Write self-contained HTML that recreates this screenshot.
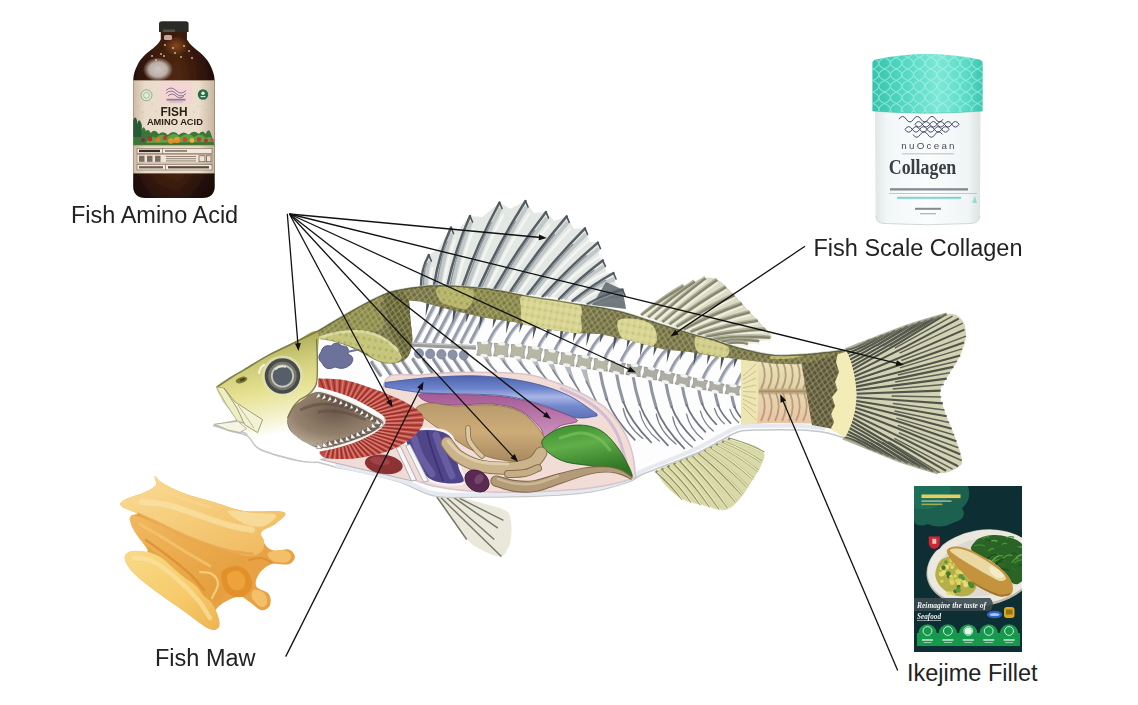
<!DOCTYPE html>
<html><head><meta charset="utf-8"><title>Fish utilisation diagram</title>
<style>
html,body{margin:0;padding:0;background:#fff;}
body{width:1138px;height:705px;overflow:hidden;position:relative;font-family:"Liberation Sans",sans-serif;}
svg{position:absolute;left:0;top:0;}
.lbl{position:absolute;font-size:23.5px;line-height:24px;color:#222;white-space:nowrap;letter-spacing:0;}
</style></head><body>
<svg width="1138" height="705" viewBox="0 0 1138 705">
<defs>

<linearGradient id="gHead" x1="0" y1="0" x2="0.15" y2="1">
 <stop offset="0" stop-color="#807f3a"/><stop offset="0.1" stop-color="#a5a452"/><stop offset="0.3" stop-color="#cbc976"/><stop offset="0.52" stop-color="#e6e292"/><stop offset="0.7" stop-color="#f2f0c6"/><stop offset="0.86" stop-color="#ffffff"/>
</linearGradient>
<radialGradient id="gCav" cx="0.5" cy="0.35" r="0.7">
 <stop offset="0" stop-color="#6e5a4c"/><stop offset="0.6" stop-color="#93806c"/><stop offset="1" stop-color="#bdb09a"/>
</radialGradient>
<linearGradient id="gBlue" x1="0" y1="0" x2="0" y2="1">
 <stop offset="0" stop-color="#4f62ae"/><stop offset="0.3" stop-color="#6c84cc"/><stop offset="0.5" stop-color="#a8b6e6"/><stop offset="0.72" stop-color="#7488cc"/><stop offset="1" stop-color="#5f72ba"/>
</linearGradient>
<linearGradient id="gPink" x1="0" y1="0" x2="0" y2="1">
 <stop offset="0" stop-color="#a45a94"/><stop offset="1" stop-color="#cc94c0"/>
</linearGradient>
<linearGradient id="gTan" x1="0" y1="0" x2="0" y2="1">
 <stop offset="0" stop-color="#b89a6c"/><stop offset="0.5" stop-color="#cdac78"/><stop offset="1" stop-color="#a98a60"/>
</linearGradient>
<linearGradient id="gGreen" x1="0" y1="0" x2="0.3" y2="1">
 <stop offset="0" stop-color="#3a8a2c"/><stop offset="0.45" stop-color="#60ae4a"/><stop offset="1" stop-color="#2f7424"/>
</linearGradient>
<linearGradient id="gPurple" x1="0" y1="0" x2="1" y2="0">
 <stop offset="0" stop-color="#4a3f86"/><stop offset="0.5" stop-color="#7a6cc0"/><stop offset="1" stop-color="#4a3c80"/>
</linearGradient>
<linearGradient id="gFillet" x1="0" y1="0" x2="0" y2="1">
 <stop offset="0" stop-color="#ece4be"/><stop offset="0.45" stop-color="#e2d2a8"/><stop offset="0.5" stop-color="#a58a66"/><stop offset="0.56" stop-color="#e6d6b0"/><stop offset="1" stop-color="#e8c4a6"/>
</linearGradient>
<pattern id="pScale" width="6" height="7.4" patternUnits="userSpaceOnUse" patternTransform="rotate(10)">
 <path d="M0,3.7 L3,0 L6,3.7 L3,7.4 Z" fill="none" stroke="#c9c78c" stroke-width="1" opacity="0.5"/>
 <path d="M3,1.6 L4.6,3.7 L3,5.8 L1.4,3.7 Z" fill="#3c3b1c" opacity="0.16"/>
</pattern>
<clipPath id="cStripe"><path d="M315.7,332.0C318.4,330.4 326.4,325.6 331.6,322.5C336.8,319.4 341.8,316.5 347.0,313.5C352.2,310.5 357.5,307.4 363.0,304.5C368.5,301.6 374.7,298.3 380.0,296.0C385.3,293.7 387.2,292.3 395.0,290.6C402.8,288.9 417.3,286.7 426.5,285.8C435.7,284.9 440.6,285.1 450.0,285.5C459.4,285.9 474.7,287.2 483.0,288.0C491.3,288.8 492.1,289.1 500.0,290.5C507.9,291.9 521.5,294.9 530.7,296.5C539.9,298.1 547.1,298.8 555.0,300.0C562.9,301.2 570.5,302.8 578.0,304.0C585.5,305.2 593.5,306.1 600.0,307.2C606.5,308.3 612.0,309.4 617.0,310.5C622.0,311.6 624.5,312.3 630.0,314.0C635.5,315.7 644.3,318.7 650.0,320.5C655.7,322.3 655.7,322.4 664.0,325.0C672.3,327.6 691.5,333.6 700.0,336.0C708.5,338.4 710.8,338.2 715.0,339.5C719.2,340.8 719.2,341.7 725.0,343.5C730.8,345.3 741.7,348.6 750.0,350.5C758.3,352.4 765.5,354.4 775.0,355.0C784.5,355.6 795.3,354.8 807.0,354.0C818.7,353.2 838.7,350.7 845.0,350.0L845.0,352.0 L812.0,362.0 L797.0,364.3 L775.0,363.8 L745.0,360.0 L715.0,356.5 L690.0,352.0 L664.0,349.5 L630.0,340.5 L600.0,334.0 L578.0,333.3 L546.5,329.3 L515.0,322.2 L483.3,317.5 L451.6,310.3 L420.0,301.6 L409.0,300.5 L409.0,300.5C409.3,304.1 410.1,315.2 410.7,322.0C411.2,328.8 412.8,335.2 412.3,341.0C411.8,346.8 410.5,353.3 407.6,357.0C404.7,360.7 399.8,362.5 395.0,363.3C390.2,364.1 384.3,363.3 379.0,361.7C373.7,360.1 368.6,356.1 363.3,353.5C358.1,350.9 352.8,348.1 347.5,346.0C342.2,343.9 336.8,342.2 331.6,341.0C326.4,339.8 319.0,338.9 316.5,338.5Z"/></clipPath>
<filter id="soft" x="-5%" y="-5%" width="110%" height="110%"><feGaussianBlur stdDeviation="0.75"/></filter>

<linearGradient id="gBottle" x1="0" y1="0" x2="1" y2="0">
 <stop offset="0" stop-color="#260f0a"/><stop offset="0.3" stop-color="#48220f"/><stop offset="0.55" stop-color="#502812"/><stop offset="0.8" stop-color="#38180c"/><stop offset="1" stop-color="#200c07"/>
</linearGradient>
<linearGradient id="gBottleV" x1="0" y1="0" x2="0" y2="1">
 <stop offset="0" stop-color="#000" stop-opacity="0.25"/><stop offset="0.25" stop-color="#000" stop-opacity="0"/><stop offset="0.85" stop-color="#000" stop-opacity="0.1"/><stop offset="1" stop-color="#000" stop-opacity="0.45"/>
</linearGradient>
<linearGradient id="gLabel" x1="0" y1="0" x2="1" y2="0">
 <stop offset="0" stop-color="#cdbba6"/><stop offset="0.15" stop-color="#eadccb"/><stop offset="0.8" stop-color="#ecdfce"/><stop offset="1" stop-color="#c9b6a0"/>
</linearGradient>
<linearGradient id="gJar" x1="0" y1="0" x2="1" y2="0">
 <stop offset="0" stop-color="#dfe7e7"/><stop offset="0.12" stop-color="#f3f7f7"/><stop offset="0.5" stop-color="#fbfdfd"/><stop offset="0.88" stop-color="#f1f5f5"/><stop offset="1" stop-color="#dbe3e3"/>
</linearGradient>
<linearGradient id="gTeal" x1="0" y1="0" x2="1" y2="0">
 <stop offset="0" stop-color="#35c2ac"/><stop offset="0.25" stop-color="#4fd6c0"/><stop offset="0.6" stop-color="#7ce8d6"/><stop offset="0.85" stop-color="#5adcc6"/><stop offset="1" stop-color="#3cc6b0"/>
</linearGradient>
<radialGradient id="gAmber"><stop offset="0" stop-color="#96501e" stop-opacity="0.8"/><stop offset="1" stop-color="#96501e" stop-opacity="0"/></radialGradient>
<radialGradient id="gGlare"><stop offset="0" stop-color="#d8d0cc" stop-opacity="0.95"/><stop offset="0.6" stop-color="#cfc6c2" stop-opacity="0.85"/><stop offset="1" stop-color="#cfc6c2" stop-opacity="0"/></radialGradient>
<clipPath id="cTeal"><path d="M872.4,63 Q872.4,60.5 876,59.5 Q927,48.5 979,59.5 Q982.7,60.5 982.7,63 L982.7,111 Q927,115.5 872.4,111 Z"/></clipPath>
<clipPath id="cPack"><rect x="914" y="486" width="108" height="166"/></clipPath>
<radialGradient id="gPlate" cx="0.5" cy="0.5" r="0.5">
 <stop offset="0.7" stop-color="#e9e5da"/><stop offset="0.9" stop-color="#f4f1ea"/><stop offset="1" stop-color="#c9c4b6"/>
</radialGradient>
<linearGradient id="gMaw1" x1="0" y1="0" x2="1" y2="1">
 <stop offset="0" stop-color="#f9dc98"/><stop offset="0.5" stop-color="#f5cb78"/><stop offset="1" stop-color="#efb75c"/>
</linearGradient>
<linearGradient id="gMaw2" x1="0" y1="0" x2="1" y2="1">
 <stop offset="0" stop-color="#f1b860"/><stop offset="1" stop-color="#e29a38"/>
</linearGradient>
<linearGradient id="gMaw3" x1="0" y1="0" x2="1" y2="1">
 <stop offset="0" stop-color="#f9da88"/><stop offset="0.6" stop-color="#f6ca6a"/><stop offset="1" stop-color="#eeb352"/>
</linearGradient>

</defs>
<g id="fish" filter="url(#soft)"><g id="dorsal"><polygon points="421.0,287.5 428.8,255.0 437.8,249.6 451.0,227.5 458.6,229.3 470.0,216.0 482.3,216.9 499.5,202.5 510.2,208.8 525.5,201.0 533.7,212.9 546.0,212.0 554.3,221.0 566.7,216.4 573.9,228.8 585.0,228.4 589.8,241.8 597.9,242.6 599.1,257.6 602.8,260.4 606.6,273.1 613.5,273.0 616.5,287.4 622.5,289.5 626.0,308.0 600.0,306.5 555.0,297.5 500.0,290.5 450.0,285.0" fill="#e3e8e4"/><path d="M426.0,287.5 Q425.9,269.2 429.8,261.0" fill="none" stroke="#b2bbbb" stroke-width="4" opacity="0.7"/><path d="M430.5,287.5 Q430.4,271.2 432.8,267.0" fill="none" stroke="#f4f6f4" stroke-width="2.5" opacity="0.9"/><path d="M439.0,285.5 Q443.8,254.5 452.0,233.5" fill="none" stroke="#b2bbbb" stroke-width="4" opacity="0.7"/><path d="M443.5,285.5 Q448.3,256.5 455.0,239.5" fill="none" stroke="#f4f6f4" stroke-width="2.5" opacity="0.9"/><path d="M452.5,285.0 Q460.4,248.5 471.0,222.0" fill="none" stroke="#b2bbbb" stroke-width="4" opacity="0.7"/><path d="M457.0,285.0 Q464.9,250.5 474.0,228.0" fill="none" stroke="#f4f6f4" stroke-width="2.5" opacity="0.9"/><path d="M467.5,286.0 Q482.9,242.2 500.5,208.5" fill="none" stroke="#b2bbbb" stroke-width="4" opacity="0.7"/><path d="M472.0,286.0 Q487.4,244.2 503.5,214.5" fill="none" stroke="#f4f6f4" stroke-width="2.5" opacity="0.9"/><path d="M484.0,287.0 Q504.4,242.0 526.5,207.0" fill="none" stroke="#b2bbbb" stroke-width="4" opacity="0.7"/><path d="M488.5,287.0 Q508.9,244.0 529.5,213.0" fill="none" stroke="#f4f6f4" stroke-width="2.5" opacity="0.9"/><path d="M499.0,289.5 Q522.5,248.8 547.0,218.0" fill="none" stroke="#b2bbbb" stroke-width="4" opacity="0.7"/><path d="M503.5,289.5 Q527.0,250.8 550.0,224.0" fill="none" stroke="#f4f6f4" stroke-width="2.5" opacity="0.9"/><path d="M515.0,292.0 Q541.1,252.2 567.7,222.4" fill="none" stroke="#b2bbbb" stroke-width="4" opacity="0.7"/><path d="M519.5,292.0 Q545.6,254.2 570.7,228.4" fill="none" stroke="#f4f6f4" stroke-width="2.5" opacity="0.9"/><path d="M532.5,294.5 Q559.4,259.4 586.0,234.4" fill="none" stroke="#b2bbbb" stroke-width="4" opacity="0.7"/><path d="M537.0,294.5 Q563.9,261.4 589.0,240.4" fill="none" stroke="#f4f6f4" stroke-width="2.5" opacity="0.9"/><path d="M547.5,296.5 Q573.6,267.6 598.9,248.6" fill="none" stroke="#b2bbbb" stroke-width="4" opacity="0.7"/><path d="M552.0,296.5 Q578.1,269.6 601.9,254.6" fill="none" stroke="#f4f6f4" stroke-width="2.5" opacity="0.9"/><path d="M564.0,299.0 Q584.6,277.7 603.8,266.4" fill="none" stroke="#b2bbbb" stroke-width="4" opacity="0.7"/><path d="M568.5,299.0 Q589.1,279.7 606.8,272.4" fill="none" stroke="#f4f6f4" stroke-width="2.5" opacity="0.9"/><path d="M577.5,301.0 Q597.0,285.0 614.5,279.0" fill="none" stroke="#b2bbbb" stroke-width="4" opacity="0.7"/><path d="M582.0,301.0 Q601.5,287.0 617.5,285.0" fill="none" stroke="#f4f6f4" stroke-width="2.5" opacity="0.9"/><path d="M592.5,304.0 Q609.3,294.8 623.5,295.5" fill="none" stroke="#b2bbbb" stroke-width="4" opacity="0.7"/><path d="M597.0,304.0 Q613.8,296.8 626.5,301.5" fill="none" stroke="#f4f6f4" stroke-width="2.5" opacity="0.9"/><polygon points="606,282 622.5,289.5 626,309 592,305" fill="#5c666b" opacity="0.85"/><path d="M421.0,287.5 Q420.9,269.2 428.8,255.0" fill="none" stroke="#565e65" stroke-width="2.5" stroke-linecap="round"/><path d="M423.6,287.5 Q423.3,270.2 426.7,263.4" fill="none" stroke="#8c949c" stroke-width="1.4" stroke-linecap="round"/><path d="M428.8,255.0 l2.5,6" stroke="#4b5358" stroke-width="1.6" stroke-linecap="round"/><path d="M434.0,285.5 Q438.8,254.5 451.0,227.5" fill="none" stroke="#565e65" stroke-width="2.5" stroke-linecap="round"/><path d="M436.6,285.5 Q441.2,255.5 447.0,241.7" fill="none" stroke="#8c949c" stroke-width="1.4" stroke-linecap="round"/><path d="M451.0,227.5 l2.5,6" stroke="#4b5358" stroke-width="1.6" stroke-linecap="round"/><path d="M447.5,285.0 Q455.4,248.5 470.0,216.0" fill="none" stroke="#565e65" stroke-width="2.5" stroke-linecap="round"/><path d="M450.1,285.0 Q457.8,249.5 464.9,232.6" fill="none" stroke="#8c949c" stroke-width="1.4" stroke-linecap="round"/><path d="M470.0,216.0 l2.5,6" stroke="#4b5358" stroke-width="1.6" stroke-linecap="round"/><path d="M462.5,286.0 Q477.9,242.2 499.5,202.5" fill="none" stroke="#565e65" stroke-width="2.5" stroke-linecap="round"/><path d="M465.1,286.0 Q480.3,243.2 491.3,222.4" fill="none" stroke="#8c949c" stroke-width="1.4" stroke-linecap="round"/><path d="M499.5,202.5 l2.5,6" stroke="#4b5358" stroke-width="1.6" stroke-linecap="round"/><path d="M479.0,287.0 Q499.4,242.0 525.5,201.0" fill="none" stroke="#565e65" stroke-width="2.5" stroke-linecap="round"/><path d="M481.6,287.0 Q501.8,243.0 515.3,221.4" fill="none" stroke="#8c949c" stroke-width="1.4" stroke-linecap="round"/><path d="M525.5,201.0 l2.5,6" stroke="#4b5358" stroke-width="1.6" stroke-linecap="round"/><path d="M494.0,289.5 Q517.5,248.8 546.0,212.0" fill="none" stroke="#565e65" stroke-width="2.5" stroke-linecap="round"/><path d="M496.6,289.5 Q519.9,249.8 534.7,230.5" fill="none" stroke="#8c949c" stroke-width="1.4" stroke-linecap="round"/><path d="M546.0,212.0 l2.5,6" stroke="#4b5358" stroke-width="1.6" stroke-linecap="round"/><path d="M510.0,292.0 Q536.1,252.2 566.7,216.4" fill="none" stroke="#565e65" stroke-width="2.5" stroke-linecap="round"/><path d="M512.6,292.0 Q538.5,253.2 554.5,234.5" fill="none" stroke="#8c949c" stroke-width="1.4" stroke-linecap="round"/><path d="M566.7,216.4 l2.5,6" stroke="#4b5358" stroke-width="1.6" stroke-linecap="round"/><path d="M527.5,294.5 Q554.4,259.4 585.0,228.4" fill="none" stroke="#565e65" stroke-width="2.5" stroke-linecap="round"/><path d="M530.1,294.5 Q556.8,260.4 572.7,244.4" fill="none" stroke="#8c949c" stroke-width="1.4" stroke-linecap="round"/><path d="M585.0,228.4 l2.5,6" stroke="#4b5358" stroke-width="1.6" stroke-linecap="round"/><path d="M542.5,296.5 Q568.6,267.6 597.9,242.6" fill="none" stroke="#565e65" stroke-width="2.5" stroke-linecap="round"/><path d="M545.1,296.5 Q571.0,268.6 586.2,255.8" fill="none" stroke="#8c949c" stroke-width="1.4" stroke-linecap="round"/><path d="M597.9,242.6 l2.5,6" stroke="#4b5358" stroke-width="1.6" stroke-linecap="round"/><path d="M559.0,299.0 Q579.6,277.7 602.8,260.4" fill="none" stroke="#565e65" stroke-width="2.5" stroke-linecap="round"/><path d="M561.6,299.0 Q582.0,278.7 593.9,270.2" fill="none" stroke="#8c949c" stroke-width="1.4" stroke-linecap="round"/><path d="M602.8,260.4 l2.5,6" stroke="#4b5358" stroke-width="1.6" stroke-linecap="round"/><path d="M572.5,301.0 Q592.0,285.0 613.5,273.0" fill="none" stroke="#565e65" stroke-width="2.5" stroke-linecap="round"/><path d="M575.1,301.0 Q594.4,286.0 605.3,280.4" fill="none" stroke="#8c949c" stroke-width="1.4" stroke-linecap="round"/><path d="M613.5,273.0 l2.5,6" stroke="#4b5358" stroke-width="1.6" stroke-linecap="round"/><path d="M587.5,304.0 Q604.3,294.8 622.5,289.5" fill="none" stroke="#565e65" stroke-width="2.5" stroke-linecap="round"/><path d="M590.1,304.0 Q606.7,295.8 615.8,293.9" fill="none" stroke="#8c949c" stroke-width="1.4" stroke-linecap="round"/><path d="M622.5,289.5 l2.5,6" stroke="#4b5358" stroke-width="1.6" stroke-linecap="round"/></g><g id="dorsal2"><path d="M641.0,315.0C643.8,312.7 651.5,305.5 658.0,301.0C664.5,296.5 672.3,291.8 680.0,288.0C687.7,284.2 697.7,279.3 704.0,278.0C710.3,276.7 713.3,277.6 718.0,280.0C722.7,282.4 727.0,287.6 732.0,292.6C737.0,297.6 743.0,304.6 748.0,310.0C753.0,315.4 758.0,320.5 762.0,325.0C766.0,329.5 772.3,334.3 772.0,337.0C771.7,339.7 764.8,339.8 760.0,341.0C755.2,342.2 746.2,343.5 743.5,344.0L722,344 L700,337 L675,327 Z" fill="#dcdcc6"/><path d="M641.0,315.0 Q663.5,297.5 684.0,286.0" stroke="#7c7c66" stroke-width="2.6" fill="none" opacity="0.9"/><path d="M642.0,313.0 Q663.5,295.5 683.0,284.4" stroke="#a9a990" stroke-width="1.6" fill="none" opacity="0.8"/><path d="M642.5,317.4 Q665.0,300.5 684.5,288.6" stroke="#f1f1e2" stroke-width="1.8" fill="none" opacity="0.9"/><path d="M648.1,317.3 Q672.5,296.5 694.8,281.7" stroke="#7c7c66" stroke-width="2.6" fill="none" opacity="0.9"/><path d="M649.1,315.3 Q672.5,294.5 693.8,280.1" stroke="#a9a990" stroke-width="1.6" fill="none" opacity="0.8"/><path d="M649.6,319.7 Q674.0,299.5 695.3,284.3" stroke="#f1f1e2" stroke-width="1.8" fill="none" opacity="0.9"/><path d="M655.2,319.6 Q681.5,295.9 705.7,278.2" stroke="#7c7c66" stroke-width="2.6" fill="none" opacity="0.9"/><path d="M656.2,317.6 Q681.5,293.9 704.7,276.6" stroke="#a9a990" stroke-width="1.6" fill="none" opacity="0.8"/><path d="M656.7,322.0 Q683.0,298.9 706.2,280.8" stroke="#f1f1e2" stroke-width="1.8" fill="none" opacity="0.9"/><path d="M662.4,321.9 Q690.8,297.9 717.2,279.9" stroke="#7c7c66" stroke-width="2.6" fill="none" opacity="0.9"/><path d="M663.4,319.9 Q690.8,295.9 716.2,278.3" stroke="#a9a990" stroke-width="1.6" fill="none" opacity="0.8"/><path d="M663.9,324.3 Q692.3,300.9 717.7,282.5" stroke="#f1f1e2" stroke-width="1.8" fill="none" opacity="0.9"/><path d="M669.5,324.2 Q698.7,302.7 726.0,287.2" stroke="#7c7c66" stroke-width="2.6" fill="none" opacity="0.9"/><path d="M670.5,322.2 Q698.7,300.7 725.0,285.6" stroke="#a9a990" stroke-width="1.6" fill="none" opacity="0.8"/><path d="M671.0,326.6 Q700.2,305.7 726.5,289.8" stroke="#f1f1e2" stroke-width="1.8" fill="none" opacity="0.9"/><path d="M676.6,326.6 Q706.5,307.9 734.4,295.2" stroke="#7c7c66" stroke-width="2.6" fill="none" opacity="0.9"/><path d="M677.6,324.6 Q706.5,305.9 733.4,293.6" stroke="#a9a990" stroke-width="1.6" fill="none" opacity="0.8"/><path d="M678.1,329.0 Q708.0,310.9 734.9,297.8" stroke="#f1f1e2" stroke-width="1.8" fill="none" opacity="0.9"/><path d="M683.6,329.3 Q713.9,313.5 742.2,303.7" stroke="#7c7c66" stroke-width="2.6" fill="none" opacity="0.9"/><path d="M684.6,327.3 Q713.9,311.5 741.2,302.1" stroke="#a9a990" stroke-width="1.6" fill="none" opacity="0.8"/><path d="M685.1,331.7 Q715.4,316.5 742.7,306.3" stroke="#f1f1e2" stroke-width="1.8" fill="none" opacity="0.9"/><path d="M690.6,331.9 Q721.4,319.1 750.1,312.3" stroke="#7c7c66" stroke-width="2.6" fill="none" opacity="0.9"/><path d="M691.6,329.9 Q721.4,317.1 749.1,310.7" stroke="#a9a990" stroke-width="1.6" fill="none" opacity="0.8"/><path d="M692.1,334.3 Q722.9,322.1 750.6,314.9" stroke="#f1f1e2" stroke-width="1.8" fill="none" opacity="0.9"/><path d="M697.6,334.6 Q728.8,324.7 758.0,320.8" stroke="#7c7c66" stroke-width="2.6" fill="none" opacity="0.9"/><path d="M698.6,332.6 Q728.8,322.7 757.0,319.2" stroke="#a9a990" stroke-width="1.6" fill="none" opacity="0.8"/><path d="M699.1,337.0 Q730.3,327.7 758.5,323.4" stroke="#f1f1e2" stroke-width="1.8" fill="none" opacity="0.9"/><path d="M704.7,337.0 Q736.2,330.2 765.7,329.5" stroke="#7c7c66" stroke-width="2.6" fill="none" opacity="0.9"/><path d="M705.7,335.0 Q736.2,328.2 764.7,327.9" stroke="#a9a990" stroke-width="1.6" fill="none" opacity="0.8"/><path d="M706.2,339.4 Q737.7,333.2 766.2,332.1" stroke="#f1f1e2" stroke-width="1.8" fill="none" opacity="0.9"/><path d="M711.8,339.3 Q742.0,335.5 770.3,337.6" stroke="#7c7c66" stroke-width="2.6" fill="none" opacity="0.9"/><path d="M712.8,337.3 Q742.0,333.5 769.3,336.0" stroke="#a9a990" stroke-width="1.6" fill="none" opacity="0.8"/><path d="M713.3,341.7 Q743.5,338.5 770.8,340.2" stroke="#f1f1e2" stroke-width="1.8" fill="none" opacity="0.9"/><path d="M718.9,341.7 Q740.1,338.4 759.3,341.2" stroke="#7c7c66" stroke-width="2.6" fill="none" opacity="0.9"/><path d="M719.9,339.7 Q740.1,336.4 758.3,339.6" stroke="#a9a990" stroke-width="1.6" fill="none" opacity="0.8"/><path d="M720.4,344.1 Q741.6,341.4 759.8,343.8" stroke="#f1f1e2" stroke-width="1.8" fill="none" opacity="0.9"/><path d="M726.0,344.0 Q738.0,341.0 748.0,344.0" stroke="#7c7c66" stroke-width="2.6" fill="none" opacity="0.9"/><path d="M727.0,342.0 Q738.0,339.0 747.0,342.4" stroke="#a9a990" stroke-width="1.6" fill="none" opacity="0.8"/><path d="M727.5,346.4 Q739.5,344.0 748.5,346.6" stroke="#f1f1e2" stroke-width="1.8" fill="none" opacity="0.9"/></g><g id="tail"><path d="M845.0,350.0C849.2,348.3 859.2,344.2 870.0,340.0C880.8,335.8 897.2,329.3 910.0,325.0C922.8,320.7 938.3,314.8 947.0,314.0C955.7,313.2 958.8,316.3 962.0,320.0C965.2,323.7 966.3,330.0 966.0,336.0C965.7,342.0 963.0,349.3 960.0,356.0C957.0,362.7 951.3,370.0 948.0,376.0C944.7,382.0 940.5,386.0 940.0,392.0C939.5,398.0 942.5,404.5 945.0,412.0C947.5,419.5 952.2,429.0 955.0,437.0C957.8,445.0 961.7,454.8 962.0,460.0C962.3,465.2 961.0,465.8 957.0,468.0C953.0,470.2 947.5,474.2 938.0,473.0C928.5,471.8 911.3,465.0 900.0,461.0C888.7,457.0 879.5,452.8 870.0,449.0C860.5,445.2 847.5,439.8 843.0,438.0L850,424 L854,410 L856,395 L854.5,378 L851,362 Z" fill="#d3d3b3"/><path d="M846.0,350.0 Q858.0,348.0 870.0,340.0" stroke="#50544a" stroke-width="2.1" fill="none"/><path d="M859.1,345.7 L876.3,337.6" stroke="#5c6054" stroke-width="1.5" fill="none"/><path d="M847.3,353.2 Q865.0,347.0 882.6,335.3" stroke="#50544a" stroke-width="2.1" fill="none"/><path d="M865.2,345.6 L888.8,332.9" stroke="#5c6054" stroke-width="1.5" fill="none"/><path d="M848.7,356.4 Q871.9,346.0 895.1,330.6" stroke="#50544a" stroke-width="2.1" fill="none"/><path d="M871.2,345.5 L901.4,328.2" stroke="#5c6054" stroke-width="1.5" fill="none"/><path d="M850.0,359.6 Q878.9,345.1 907.7,325.9" stroke="#50544a" stroke-width="2.1" fill="none"/><path d="M877.3,345.5 L914.1,323.8" stroke="#5c6054" stroke-width="1.5" fill="none"/><path d="M851.2,362.9 Q885.8,344.5 920.5,321.9" stroke="#50544a" stroke-width="2.1" fill="none"/><path d="M883.2,345.9 L926.9,320.0" stroke="#5c6054" stroke-width="1.5" fill="none"/><path d="M851.9,366.3 Q892.7,344.0 933.4,318.1" stroke="#50544a" stroke-width="2.1" fill="none"/><path d="M889.1,346.2 L939.8,316.1" stroke="#5c6054" stroke-width="1.5" fill="none"/><path d="M852.7,369.7 Q899.5,343.6 946.2,314.2" stroke="#50544a" stroke-width="2.1" fill="none"/><path d="M894.8,348.2 L952.5,316.2" stroke="#5c6054" stroke-width="1.5" fill="none"/><path d="M853.4,373.1 Q906.1,347.3 958.7,318.7" stroke="#50544a" stroke-width="2.1" fill="none"/><path d="M899.6,353.1 L962.8,323.1" stroke="#5c6054" stroke-width="1.5" fill="none"/><path d="M854.2,376.5 Q909.3,354.2 964.4,329.6" stroke="#50544a" stroke-width="2.1" fill="none"/><path d="M901.3,360.5 L966.0,336.1" stroke="#5c6054" stroke-width="1.5" fill="none"/><path d="M854.7,379.9 Q909.4,362.1 964.0,342.5" stroke="#50544a" stroke-width="2.1" fill="none"/><path d="M899.9,367.9 L962.1,348.9" stroke="#5c6054" stroke-width="1.5" fill="none"/><path d="M855.0,383.4 Q907.6,370.1 960.2,355.4" stroke="#50544a" stroke-width="2.1" fill="none"/><path d="M897.9,375.1 L956.9,361.2" stroke="#5c6054" stroke-width="1.5" fill="none"/><path d="M855.3,386.9 Q904.4,377.4 953.4,366.9" stroke="#50544a" stroke-width="2.1" fill="none"/><path d="M895.1,381.9 L950.0,372.7" stroke="#5c6054" stroke-width="1.5" fill="none"/><path d="M855.6,390.3 Q901.2,384.7 946.7,378.6" stroke="#50544a" stroke-width="2.1" fill="none"/><path d="M892.7,388.9 L943.7,384.6" stroke="#5c6054" stroke-width="1.5" fill="none"/><path d="M855.9,393.8 Q898.3,392.2 940.7,390.6" stroke="#50544a" stroke-width="2.1" fill="none"/><path d="M891.7,396.1 L941.2,396.9" stroke="#5c6054" stroke-width="1.5" fill="none"/><path d="M855.7,397.2 Q899.3,400.1 942.9,403.4" stroke="#50544a" stroke-width="2.1" fill="none"/><path d="M892.9,403.6 L944.5,410.0" stroke="#5c6054" stroke-width="1.5" fill="none"/><path d="M855.2,400.7 Q901.0,408.0 946.7,416.3" stroke="#50544a" stroke-width="2.1" fill="none"/><path d="M894.6,410.9 L949.2,422.5" stroke="#5c6054" stroke-width="1.5" fill="none"/><path d="M854.8,404.1 Q903.2,415.7 951.7,428.7" stroke="#50544a" stroke-width="2.1" fill="none"/><path d="M896.4,418.1 L954.2,435.0" stroke="#5c6054" stroke-width="1.5" fill="none"/><path d="M854.3,407.6 Q905.3,423.5 956.3,441.3" stroke="#50544a" stroke-width="2.1" fill="none"/><path d="M897.8,425.4 L958.3,447.7" stroke="#5c6054" stroke-width="1.5" fill="none"/><path d="M853.7,411.0 Q907.0,431.4 960.2,454.2" stroke="#50544a" stroke-width="2.1" fill="none"/><path d="M898.8,432.8 L961.7,460.5" stroke="#5c6054" stroke-width="1.5" fill="none"/><path d="M852.8,414.4 Q905.4,438.9 958.1,466.2" stroke="#50544a" stroke-width="2.1" fill="none"/><path d="M894.4,438.3 L952.6,469.2" stroke="#5c6054" stroke-width="1.5" fill="none"/><path d="M851.8,417.7 Q898.9,442.7 946.1,470.9" stroke="#50544a" stroke-width="2.1" fill="none"/><path d="M888.4,441.7 L939.6,472.6" stroke="#5c6054" stroke-width="1.5" fill="none"/><path d="M850.8,421.0 Q892.0,444.4 933.2,471.5" stroke="#50544a" stroke-width="2.1" fill="none"/><path d="M882.4,442.3 L926.8,469.5" stroke="#5c6054" stroke-width="1.5" fill="none"/><path d="M849.8,424.4 Q885.1,443.8 920.4,467.4" stroke="#50544a" stroke-width="2.1" fill="none"/><path d="M876.3,442.5 L914.0,465.4" stroke="#5c6054" stroke-width="1.5" fill="none"/><path d="M848.4,427.5 Q878.0,443.2 907.6,463.4" stroke="#50544a" stroke-width="2.1" fill="none"/><path d="M870.1,442.7 L901.2,461.4" stroke="#5c6054" stroke-width="1.5" fill="none"/><path d="M846.9,430.7 Q870.9,442.3 894.9,459.0" stroke="#50544a" stroke-width="2.1" fill="none"/><path d="M864.0,442.4 L888.7,456.5" stroke="#5c6054" stroke-width="1.5" fill="none"/><path d="M845.5,433.8 Q864.0,441.1 882.5,454.0" stroke="#50544a" stroke-width="2.1" fill="none"/><path d="M858.0,442.2 L876.2,451.5" stroke="#5c6054" stroke-width="1.5" fill="none"/><path d="M844.0,437.0 Q857.0,440.0 870.0,449.0" stroke="#50544a" stroke-width="2.1" fill="none"/><path d="M845.0,350.0C849.2,348.3 859.2,344.2 870.0,340.0C880.8,335.8 897.2,329.3 910.0,325.0C922.8,320.7 940.8,315.8 947.0,314.0" fill="none" stroke="#7d7f68" stroke-width="3" opacity="0.6"/><path d="M938.0,473.0C931.7,471.0 911.3,465.0 900.0,461.0C888.7,457.0 879.5,452.8 870.0,449.0C860.5,445.2 847.5,439.8 843.0,438.0" fill="none" stroke="#7d7f68" stroke-width="3" opacity="0.6"/></g><g id="anal"><path d="M655.6,471.0C657.3,473.5 661.5,481.3 666.0,486.0C670.5,490.7 676.2,496.1 682.5,499.4C688.8,502.6 696.7,503.7 703.8,505.5C710.9,507.3 719.1,511.0 725.0,510.0C730.9,509.0 734.8,504.2 739.3,499.4C743.8,494.6 748.5,486.4 752.0,481.0C755.5,475.6 758.6,471.5 760.6,466.8C762.6,462.1 765.8,456.4 764.0,452.6C762.2,448.8 756.0,446.4 750.0,444.0C744.0,441.6 731.7,439.3 728.0,438.4Z" fill="#dadaa6"/><path d="M655.6,471.0 Q671.0,483.7 682.5,499.4" stroke="#7f7f52" stroke-width="2.4" fill="none" opacity="0.9"/><path d="M657.6,472.0 Q673.0,484.7 683.5,500.4" stroke="#f0f0cc" stroke-width="1.6" fill="none" opacity="0.9"/><path d="M661.6,468.3 Q678.7,483.7 691.7,502.0" stroke="#7f7f52" stroke-width="2.4" fill="none" opacity="0.9"/><path d="M663.6,469.3 Q680.7,484.7 692.7,503.0" stroke="#f0f0cc" stroke-width="1.6" fill="none" opacity="0.9"/><path d="M667.7,465.6 Q686.3,483.6 701.0,504.7" stroke="#7f7f52" stroke-width="2.4" fill="none" opacity="0.9"/><path d="M669.7,466.6 Q688.3,484.6 702.0,505.7" stroke="#f0f0cc" stroke-width="1.6" fill="none" opacity="0.9"/><path d="M673.7,462.9 Q694.0,483.4 710.3,506.9" stroke="#7f7f52" stroke-width="2.4" fill="none" opacity="0.9"/><path d="M675.7,463.9 Q696.0,484.4 711.3,507.9" stroke="#f0f0cc" stroke-width="1.6" fill="none" opacity="0.9"/><path d="M679.7,460.1 Q701.7,483.0 719.7,508.9" stroke="#7f7f52" stroke-width="2.4" fill="none" opacity="0.9"/><path d="M681.7,461.1 Q703.7,484.0 720.7,509.9" stroke="#f0f0cc" stroke-width="1.6" fill="none" opacity="0.9"/><path d="M685.8,457.4 Q709.1,481.0 728.3,507.5" stroke="#7f7f52" stroke-width="2.4" fill="none" opacity="0.9"/><path d="M687.8,458.4 Q711.1,482.0 729.3,508.5" stroke="#f0f0cc" stroke-width="1.6" fill="none" opacity="0.9"/><path d="M691.8,454.7 Q715.9,476.8 736.1,501.8" stroke="#7f7f52" stroke-width="2.4" fill="none" opacity="0.9"/><path d="M693.8,455.7 Q717.9,477.8 737.1,502.8" stroke="#f0f0cc" stroke-width="1.6" fill="none" opacity="0.9"/><path d="M697.8,452.0 Q722.1,471.9 742.5,494.8" stroke="#7f7f52" stroke-width="2.4" fill="none" opacity="0.9"/><path d="M699.8,453.0 Q724.1,472.9 743.5,495.8" stroke="#f0f0cc" stroke-width="1.6" fill="none" opacity="0.9"/><path d="M703.9,449.3 Q727.9,466.6 747.9,486.9" stroke="#7f7f52" stroke-width="2.4" fill="none" opacity="0.9"/><path d="M705.9,450.3 Q729.9,467.6 748.9,487.9" stroke="#f0f0cc" stroke-width="1.6" fill="none" opacity="0.9"/><path d="M709.9,446.5 Q733.6,461.2 753.2,478.9" stroke="#7f7f52" stroke-width="2.4" fill="none" opacity="0.9"/><path d="M711.9,447.5 Q735.6,462.2 754.2,479.9" stroke="#f0f0cc" stroke-width="1.6" fill="none" opacity="0.9"/><path d="M715.9,443.8 Q739.1,455.8 758.2,470.7" stroke="#7f7f52" stroke-width="2.4" fill="none" opacity="0.9"/><path d="M717.9,444.8 Q741.1,456.8 759.2,471.7" stroke="#f0f0cc" stroke-width="1.6" fill="none" opacity="0.9"/><path d="M722.0,441.1 Q743.9,450.0 761.8,461.9" stroke="#7f7f52" stroke-width="2.4" fill="none" opacity="0.9"/><path d="M724.0,442.1 Q745.9,451.0 762.8,462.9" stroke="#f0f0cc" stroke-width="1.6" fill="none" opacity="0.9"/><path d="M728.0,438.4 Q748.0,444.0 764.0,452.6" stroke="#7f7f52" stroke-width="2.4" fill="none" opacity="0.9"/><path d="M730.0,439.4 Q750.0,445.0 765.0,453.6" stroke="#f0f0cc" stroke-width="1.6" fill="none" opacity="0.9"/></g><g id="pelvic"><path d="M435.5,496.0C437.4,498.7 441.8,504.8 447.0,512.0C452.2,519.2 460.2,532.8 466.7,539.5C473.2,546.2 480.2,549.2 486.0,552.0C491.8,554.8 497.7,557.2 501.4,556.5C505.1,555.8 506.5,550.6 508.0,548.0C509.5,545.4 510.1,544.9 510.6,540.9C511.2,536.9 512.0,528.9 511.3,523.9C510.6,518.9 510.8,514.4 506.4,511.1C502.0,507.8 492.4,506.2 485.1,504.0C477.8,501.8 466.2,498.8 462.4,497.7Z" fill="#e9e8da"/><line x1="436.9" y1="497.0" x2="466.7" y2="539.5" stroke="#6c6c5c" stroke-width="1.5" opacity="0.9"/><line x1="441.1" y1="497.7" x2="501.4" y2="556.5" stroke="#6c6c5c" stroke-width="1.5" opacity="0.9"/><line x1="446.8" y1="497.7" x2="494.3" y2="539.5" stroke="#6c6c5c" stroke-width="1.5" opacity="0.9"/><line x1="453.9" y1="497.7" x2="497.9" y2="528.2" stroke="#6c6c5c" stroke-width="1.5" opacity="0.9"/><line x1="459.6" y1="498.4" x2="503.5" y2="520.4" stroke="#6c6c5c" stroke-width="1.5" opacity="0.9"/></g><path d="M217.0,387.0C219.5,385.3 227.4,379.9 232.0,377.0C236.6,374.1 238.4,373.2 244.5,369.6C250.6,366.0 260.1,359.8 268.3,355.4C276.5,351.0 285.7,346.9 293.6,343.0C301.5,339.1 309.4,335.4 315.7,332.0C322.0,328.6 326.4,325.6 331.6,322.5C336.8,319.4 341.8,316.5 347.0,313.5C352.2,310.5 357.5,307.4 363.0,304.5C368.5,301.6 374.7,298.3 380.0,296.0C385.3,293.7 387.2,292.3 395.0,290.6C402.8,288.9 417.3,286.7 426.5,285.8C435.7,284.9 440.6,285.1 450.0,285.5C459.4,285.9 474.7,287.2 483.0,288.0C491.3,288.8 492.1,289.1 500.0,290.5C507.9,291.9 521.5,294.9 530.7,296.5C539.9,298.1 547.1,298.8 555.0,300.0C562.9,301.2 570.5,302.8 578.0,304.0C585.5,305.2 593.5,306.1 600.0,307.2C606.5,308.3 612.0,309.4 617.0,310.5C622.0,311.6 624.5,312.3 630.0,314.0C635.5,315.7 644.3,318.7 650.0,320.5C655.7,322.3 655.7,322.4 664.0,325.0C672.3,327.6 691.5,333.6 700.0,336.0C708.5,338.4 710.8,338.2 715.0,339.5C719.2,340.8 719.2,341.7 725.0,343.5C730.8,345.3 741.7,348.6 750.0,350.5C758.3,352.4 765.5,354.4 775.0,355.0C784.5,355.6 795.3,354.8 807.0,354.0C818.7,353.2 838.7,350.7 845.0,350.0L856,395 L843.0,437.5C840.0,436.7 832.2,433.8 825.0,432.5C817.8,431.2 810.8,430.4 800.0,430.0C789.2,429.6 770.1,429.8 760.0,430.0C749.9,430.2 745.8,429.8 739.3,431.5C732.8,433.2 728.1,436.9 721.0,440.5C713.9,444.1 705.5,449.3 696.7,453.3C687.9,457.3 675.0,461.8 668.0,464.5C661.0,467.2 659.7,467.7 655.0,469.5C650.3,471.3 644.5,473.4 640.0,475.5C635.5,477.6 636.3,479.2 628.0,482.0C619.7,484.8 604.7,489.7 590.0,492.0C575.3,494.3 558.3,495.2 540.0,496.0C521.7,496.8 497.5,497.0 480.0,497.0C462.5,497.0 448.3,498.5 435.0,496.0C421.7,493.5 412.5,486.0 400.0,482.0C387.5,478.0 370.8,474.5 360.0,472.0C349.2,469.5 342.4,468.7 335.0,467.0C327.6,465.3 322.0,462.9 315.7,461.7C309.4,460.5 306.4,462.0 297.2,459.9C288.0,457.8 268.6,453.1 260.3,448.8C252.0,444.5 255.2,437.9 247.4,434.0C239.6,430.1 219.0,426.9 213.3,425.5 L236.4,420.5 L246.0,424.0 L236.4,417.5 L223.4,401.0 L217.0,387.0Z" fill="#fdfdfd" stroke="#c4c8cc" stroke-width="1.6"/><path d="M335.0,465.0C345.8,467.5 383.3,475.2 400.0,480.0C416.7,484.8 421.7,491.1 435.0,493.5C448.3,495.9 462.5,494.5 480.0,494.5C497.5,494.5 521.7,494.3 540.0,493.5C558.3,492.7 575.3,491.8 590.0,489.5C604.7,487.2 619.7,482.4 628.0,479.5C636.3,476.6 633.3,475.2 640.0,472.0C646.7,468.8 658.5,464.4 668.0,460.5C677.5,456.6 687.9,452.7 696.7,448.5C705.5,444.3 713.9,439.1 721.0,435.5C728.1,431.9 732.8,428.6 739.3,427.0C745.8,425.4 749.9,426.2 760.0,426.0C770.1,425.8 789.2,425.6 800.0,426.0C810.8,426.4 820.8,428.1 825.0,428.5" fill="none" stroke="#e6e9f0" stroke-width="4"/><g id="skeleton"><path d="M487.4,345.1 Q493.2,330.6 503.3,320.7" stroke="#969caa" stroke-width="3.4" fill="none" stroke-linecap="round"/><path d="M489.0,345.1 Q494.8,330.6 504.5,321.7" stroke="#c9ced8" stroke-width="1.2" fill="none" stroke-linecap="round"/><path d="M504.2,346.1 Q509.6,332.6 519.0,323.4" stroke="#969caa" stroke-width="3.4" fill="none" stroke-linecap="round"/><path d="M505.8,346.1 Q511.2,332.6 520.2,324.4" stroke="#c9ced8" stroke-width="1.2" fill="none" stroke-linecap="round"/><path d="M520.9,347.5 Q525.7,335.5 534.1,327.3" stroke="#969caa" stroke-width="3.4" fill="none" stroke-linecap="round"/><path d="M522.5,347.5 Q527.3,335.5 535.3,328.3" stroke="#c9ced8" stroke-width="1.2" fill="none" stroke-linecap="round"/><path d="M537.5,349.8 Q542.1,338.3 550.1,330.5" stroke="#969caa" stroke-width="3.4" fill="none" stroke-linecap="round"/><path d="M539.1,349.8 Q543.7,338.3 551.3,331.5" stroke="#c9ced8" stroke-width="1.2" fill="none" stroke-linecap="round"/><path d="M554.0,352.7 Q558.8,340.7 567.2,332.5" stroke="#969caa" stroke-width="3.4" fill="none" stroke-linecap="round"/><path d="M555.6,352.7 Q560.4,340.7 568.4,333.5" stroke="#c9ced8" stroke-width="1.2" fill="none" stroke-linecap="round"/><path d="M570.6,355.4 Q575.6,342.9 584.4,334.4" stroke="#969caa" stroke-width="3.4" fill="none" stroke-linecap="round"/><path d="M572.2,355.4 Q577.2,342.9 585.6,335.4" stroke="#c9ced8" stroke-width="1.2" fill="none" stroke-linecap="round"/><path d="M587.2,358.2 Q592.8,344.2 602.6,334.7" stroke="#969caa" stroke-width="3.4" fill="none" stroke-linecap="round"/><path d="M588.8,358.2 Q594.4,344.2 603.8,335.7" stroke="#c9ced8" stroke-width="1.2" fill="none" stroke-linecap="round"/><path d="M603.8,360.8 Q609.2,347.3 618.6,338.1" stroke="#969caa" stroke-width="3.4" fill="none" stroke-linecap="round"/><path d="M605.4,360.8 Q610.8,347.3 619.8,339.1" stroke="#c9ced8" stroke-width="1.2" fill="none" stroke-linecap="round"/><path d="M620.3,363.5 Q625.3,351.0 634.1,342.5" stroke="#969caa" stroke-width="3.4" fill="none" stroke-linecap="round"/><path d="M621.9,363.5 Q626.9,351.0 635.3,343.5" stroke="#c9ced8" stroke-width="1.2" fill="none" stroke-linecap="round"/><path d="M636.9,366.4 Q641.7,354.4 650.1,346.3" stroke="#969caa" stroke-width="3.4" fill="none" stroke-linecap="round"/><path d="M638.5,366.4 Q643.3,354.4 651.3,347.3" stroke="#c9ced8" stroke-width="1.2" fill="none" stroke-linecap="round"/><path d="M653.4,369.5 Q658.0,358.0 666.0,350.2" stroke="#969caa" stroke-width="3.4" fill="none" stroke-linecap="round"/><path d="M655.0,369.5 Q659.6,358.0 667.2,351.2" stroke="#c9ced8" stroke-width="1.2" fill="none" stroke-linecap="round"/><path d="M669.7,373.1 Q674.7,360.6 683.5,352.1" stroke="#969caa" stroke-width="3.4" fill="none" stroke-linecap="round"/><path d="M671.3,373.1 Q676.3,360.6 684.7,353.1" stroke="#c9ced8" stroke-width="1.2" fill="none" stroke-linecap="round"/><path d="M686.2,376.6 Q691.4,363.6 700.5,354.8" stroke="#969caa" stroke-width="3.4" fill="none" stroke-linecap="round"/><path d="M687.8,376.6 Q693.0,363.6 701.7,355.8" stroke="#c9ced8" stroke-width="1.2" fill="none" stroke-linecap="round"/><path d="M702.6,379.9 Q708.0,366.4 717.5,357.3" stroke="#969caa" stroke-width="3.4" fill="none" stroke-linecap="round"/><path d="M704.2,379.9 Q709.6,366.4 718.7,358.3" stroke="#c9ced8" stroke-width="1.2" fill="none" stroke-linecap="round"/><path d="M719.1,383.3 Q724.7,369.3 734.5,359.8" stroke="#969caa" stroke-width="3.4" fill="none" stroke-linecap="round"/><path d="M720.7,383.3 Q726.3,369.3 735.7,360.8" stroke="#c9ced8" stroke-width="1.2" fill="none" stroke-linecap="round"/><path d="M735.7,386.0 Q741.5,371.5 751.6,361.6" stroke="#969caa" stroke-width="3.4" fill="none" stroke-linecap="round"/><path d="M737.3,386.0 Q743.1,371.5 752.8,362.6" stroke="#c9ced8" stroke-width="1.2" fill="none" stroke-linecap="round"/><path d="M415.5,342.0 L434.4,305.9" stroke="#969caa" stroke-width="3.6" stroke-linecap="round"/><path d="M417.2,342.0 L435.9,306.9" stroke="#c9ced8" stroke-width="1.2" stroke-linecap="round"/><path d="M424.7,342.0 L442.2,308.6" stroke="#969caa" stroke-width="3.6" stroke-linecap="round"/><path d="M426.4,342.0 L443.7,309.6" stroke="#c9ced8" stroke-width="1.2" stroke-linecap="round"/><path d="M433.9,342.0 L450.5,310.3" stroke="#969caa" stroke-width="3.6" stroke-linecap="round"/><path d="M435.6,342.0 L452.0,311.3" stroke="#c9ced8" stroke-width="1.2" stroke-linecap="round"/><path d="M443.1,342.0 L458.7,312.1" stroke="#969caa" stroke-width="3.6" stroke-linecap="round"/><path d="M444.8,342.0 L460.2,313.1" stroke="#c9ced8" stroke-width="1.2" stroke-linecap="round"/><path d="M452.3,342.0 L467.0,313.8" stroke="#969caa" stroke-width="3.6" stroke-linecap="round"/><path d="M454.0,342.0 L468.5,314.8" stroke="#c9ced8" stroke-width="1.2" stroke-linecap="round"/><path d="M461.5,342.0 L474.8,316.5" stroke="#969caa" stroke-width="3.6" stroke-linecap="round"/><path d="M463.2,342.0 L476.3,317.5" stroke="#c9ced8" stroke-width="1.2" stroke-linecap="round"/><path d="M470.7,342.0 L483.1,318.2" stroke="#969caa" stroke-width="3.6" stroke-linecap="round"/><path d="M472.4,342.0 L484.6,319.2" stroke="#c9ced8" stroke-width="1.2" stroke-linecap="round"/><path d="M426.4,302.8 L429.8,302.8 L425.5,316.8 Z" fill="#4d535b"/><path d="M439.8,306.5 L443.2,306.5 L438.9,316.5 Z" fill="#4d535b"/><path d="M453.2,310.0 L456.6,310.0 L452.3,324.0 Z" fill="#4d535b"/><path d="M466.6,313.1 L470.0,313.1 L465.7,323.1 Z" fill="#4d535b"/><path d="M480.0,316.1 L483.4,316.1 L479.1,330.1 Z" fill="#4d535b"/><path d="M493.4,318.2 L496.8,318.2 L492.5,328.2 Z" fill="#4d535b"/><path d="M506.8,320.2 L510.2,320.2 L505.9,334.2 Z" fill="#4d535b"/><path d="M520.2,322.7 L523.6,322.7 L519.3,332.7 Z" fill="#4d535b"/><path d="M533.6,325.8 L537.0,325.8 L532.7,339.8 Z" fill="#4d535b"/><path d="M547.0,328.6 L550.4,328.6 L546.1,338.6 Z" fill="#4d535b"/><path d="M560.4,330.3 L563.8,330.3 L559.5,344.3 Z" fill="#4d535b"/><path d="M573.8,332.0 L577.2,332.0 L572.9,342.0 Z" fill="#4d535b"/><path d="M587.2,332.6 L590.6,332.6 L586.3,346.6 Z" fill="#4d535b"/><path d="M600.6,333.5 L604.0,333.5 L599.7,343.5 Z" fill="#4d535b"/><path d="M614.0,336.4 L617.4,336.4 L613.1,350.4 Z" fill="#4d535b"/><path d="M627.4,339.3 L630.8,339.3 L626.5,349.3 Z" fill="#4d535b"/><path d="M640.8,342.8 L644.2,342.8 L639.9,356.8 Z" fill="#4d535b"/><path d="M654.2,346.3 L657.6,346.3 L653.3,356.3 Z" fill="#4d535b"/><path d="M667.6,349.0 L671.0,349.0 L666.7,363.0 Z" fill="#4d535b"/><path d="M681.0,350.3 L684.4,350.3 L680.1,360.3 Z" fill="#4d535b"/><path d="M694.4,352.1 L697.8,352.1 L693.5,366.1 Z" fill="#4d535b"/><path d="M707.8,354.5 L711.2,354.5 L706.9,364.5 Z" fill="#4d535b"/><path d="M721.2,356.4 L724.6,356.4 L720.3,370.4 Z" fill="#4d535b"/><path d="M734.6,358.0 L738.0,358.0 L733.7,368.0 Z" fill="#4d535b"/><path d="M480.2,353.1 L486.6,353.1 Q488.5,361.8 497.0,371.6 Q485.7,362.8 480.2,353.1 Z" fill="#b4b9c0"/><path d="M486.4,359.8 Q488.9,364.8 496.4,371.6" stroke="#7e848e" stroke-width="1.5" fill="none" stroke-linecap="round"/><path d="M497.0,354.1 L503.4,354.1 Q505.3,362.9 513.8,372.8 Q502.5,363.9 497.0,354.1 Z" fill="#b4b9c0"/><path d="M503.2,360.9 Q505.7,365.9 513.2,372.8" stroke="#7e848e" stroke-width="1.5" fill="none" stroke-linecap="round"/><path d="M513.7,355.5 L520.1,355.5 Q522.0,364.2 530.5,374.0 Q519.2,365.2 513.7,355.5 Z" fill="#b4b9c0"/><path d="M519.9,362.2 Q522.4,367.2 529.9,374.0" stroke="#7e848e" stroke-width="1.5" fill="none" stroke-linecap="round"/><path d="M530.3,357.8 L536.7,357.8 Q538.6,367.9 547.1,378.9 Q535.8,368.9 530.3,357.8 Z" fill="#b4b9c0"/><path d="M536.5,365.9 Q539.0,370.9 546.5,378.9" stroke="#7e848e" stroke-width="1.5" fill="none" stroke-linecap="round"/><path d="M546.8,360.7 L553.2,360.7 Q555.1,372.0 563.6,384.3 Q552.3,373.0 546.8,360.7 Z" fill="#b4b9c0"/><path d="M553.0,370.0 Q555.5,375.0 563.0,384.3" stroke="#7e848e" stroke-width="1.5" fill="none" stroke-linecap="round"/><path d="M563.4,363.4 L569.8,363.4 Q571.7,376.9 580.2,391.3 Q568.9,377.9 563.4,363.4 Z" fill="#b4b9c0"/><path d="M569.6,374.9 Q572.1,379.9 579.6,391.3" stroke="#7e848e" stroke-width="1.5" fill="none" stroke-linecap="round"/><path d="M580.0,366.2 L586.4,366.2 Q588.3,383.2 596.8,401.2 Q585.5,384.2 580.0,366.2 Z" fill="#b4b9c0"/><path d="M586.2,381.2 Q588.7,386.2 596.2,401.2" stroke="#7e848e" stroke-width="1.5" fill="none" stroke-linecap="round"/><path d="M599.8,369.8 Q601.9,383.8 606.8,399.2" stroke="#8f96a2" stroke-width="3" fill="none" stroke-linecap="round"/><path d="M606.8,399.2 Q613.8,418.8 634.8,439.8" stroke="#6f757e" stroke-width="1.7" fill="none" stroke-linecap="round"/><path d="M623.2,408.3 Q626.2,425.4 642.8,438.4" stroke="#7d838c" stroke-width="1.3" fill="none" stroke-linecap="round"/><path d="M616.3,372.5 Q618.4,386.5 623.3,401.9" stroke="#8f96a2" stroke-width="3" fill="none" stroke-linecap="round"/><path d="M623.3,401.9 Q630.3,421.5 651.3,442.5" stroke="#6f757e" stroke-width="1.7" fill="none" stroke-linecap="round"/><path d="M639.7,411.0 Q642.7,428.0 659.3,441.1" stroke="#7d838c" stroke-width="1.3" fill="none" stroke-linecap="round"/><path d="M632.9,375.4 Q635.0,389.4 639.9,404.8" stroke="#8f96a2" stroke-width="3" fill="none" stroke-linecap="round"/><path d="M639.9,404.8 Q646.9,424.4 667.9,445.4" stroke="#6f757e" stroke-width="1.7" fill="none" stroke-linecap="round"/><path d="M656.3,413.9 Q659.3,431.0 675.9,444.0" stroke="#7d838c" stroke-width="1.3" fill="none" stroke-linecap="round"/><path d="M649.4,378.5 Q651.5,392.5 656.3,407.9" stroke="#8f96a2" stroke-width="3" fill="none" stroke-linecap="round"/><path d="M656.3,407.9 Q663.3,427.4 684.3,448.4" stroke="#6f757e" stroke-width="1.7" fill="none" stroke-linecap="round"/><path d="M672.7,416.9 Q675.7,434.0 692.3,447.0" stroke="#7d838c" stroke-width="1.3" fill="none" stroke-linecap="round"/><path d="M665.7,382.1 Q667.5,393.8 671.6,406.6" stroke="#8f96a2" stroke-width="3" fill="none" stroke-linecap="round"/><path d="M671.6,406.6 Q677.4,423.0 694.9,440.5" stroke="#6f757e" stroke-width="1.7" fill="none" stroke-linecap="round"/><path d="M686.6,414.2 Q689.6,428.8 702.9,439.3" stroke="#7d838c" stroke-width="1.3" fill="none" stroke-linecap="round"/><path d="M682.2,385.6 Q683.6,394.9 686.8,405.1" stroke="#8f96a2" stroke-width="3" fill="none" stroke-linecap="round"/><path d="M686.8,405.1 Q691.4,418.0 705.3,431.9" stroke="#6f757e" stroke-width="1.7" fill="none" stroke-linecap="round"/><path d="M700.4,411.1 Q703.4,423.1 713.3,431.0" stroke="#7d838c" stroke-width="1.3" fill="none" stroke-linecap="round"/><path d="M698.6,388.9 Q699.7,396.0 702.2,403.8" stroke="#8f96a2" stroke-width="3" fill="none" stroke-linecap="round"/><path d="M702.2,403.8 Q705.7,413.8 716.4,424.4" stroke="#6f757e" stroke-width="1.7" fill="none" stroke-linecap="round"/><path d="M714.4,408.4 Q717.4,418.1 724.4,423.7" stroke="#7d838c" stroke-width="1.3" fill="none" stroke-linecap="round"/><path d="M715.1,392.3 Q716.0,398.5 718.2,405.3" stroke="#8f96a2" stroke-width="3" fill="none" stroke-linecap="round"/><path d="M718.2,405.3 Q721.3,413.9 730.6,423.2" stroke="#6f757e" stroke-width="1.7" fill="none" stroke-linecap="round"/><path d="M729.9,409.3 Q732.9,417.9 738.6,422.6" stroke="#7d838c" stroke-width="1.3" fill="none" stroke-linecap="round"/><path d="M731.7,395.0 Q732.5,400.6 734.5,406.8" stroke="#8f96a2" stroke-width="3" fill="none" stroke-linecap="round"/><path d="M734.5,406.8 Q737.3,414.6 745.7,423.0" stroke="#6f757e" stroke-width="1.7" fill="none" stroke-linecap="round"/><path d="M372.0,362.5 L380.5,375.0" stroke="#8c929b" stroke-width="3.6" stroke-linecap="round"/><path d="M373.8,362.5 L382.0,374.5" stroke="#d3d7de" stroke-width="1.2" stroke-linecap="round"/><path d="M382.3,362.1 L390.8,374.6" stroke="#8c929b" stroke-width="3.6" stroke-linecap="round"/><path d="M384.1,362.1 L392.3,374.1" stroke="#d3d7de" stroke-width="1.2" stroke-linecap="round"/><path d="M392.6,361.8 L401.1,374.3" stroke="#8c929b" stroke-width="3.6" stroke-linecap="round"/><path d="M394.4,361.8 L402.6,373.8" stroke="#d3d7de" stroke-width="1.2" stroke-linecap="round"/><path d="M402.9,361.4 L411.4,373.9" stroke="#8c929b" stroke-width="3.6" stroke-linecap="round"/><path d="M404.7,361.4 L412.9,373.4" stroke="#d3d7de" stroke-width="1.2" stroke-linecap="round"/><path d="M413.2,359.5 L421.7,372.0" stroke="#8c929b" stroke-width="3.6" stroke-linecap="round"/><path d="M415.0,359.5 L423.2,371.5" stroke="#d3d7de" stroke-width="1.2" stroke-linecap="round"/><path d="M423.5,359.5 L432.0,372.0" stroke="#8c929b" stroke-width="3.6" stroke-linecap="round"/><path d="M425.3,359.5 L433.5,371.5" stroke="#d3d7de" stroke-width="1.2" stroke-linecap="round"/><path d="M433.8,359.5 L442.3,372.0" stroke="#8c929b" stroke-width="3.6" stroke-linecap="round"/><path d="M435.6,359.5 L443.8,371.5" stroke="#d3d7de" stroke-width="1.2" stroke-linecap="round"/><path d="M444.1,359.5 L452.6,372.0" stroke="#8c929b" stroke-width="3.6" stroke-linecap="round"/><path d="M445.9,359.5 L454.1,371.5" stroke="#d3d7de" stroke-width="1.2" stroke-linecap="round"/><path d="M454.4,359.5 L462.9,372.0" stroke="#8c929b" stroke-width="3.6" stroke-linecap="round"/><path d="M456.2,359.5 L464.4,371.5" stroke="#d3d7de" stroke-width="1.2" stroke-linecap="round"/><path d="M464.7,359.5 L473.2,372.0" stroke="#8c929b" stroke-width="3.6" stroke-linecap="round"/><path d="M466.5,359.5 L474.7,371.5" stroke="#d3d7de" stroke-width="1.2" stroke-linecap="round"/><path d="M412,344.5 L476,347.5" stroke="#9b9b9b" stroke-width="4.5"/><path d="M412,343 L476,346" stroke="#c4c4c4" stroke-width="1.3"/><ellipse cx="419.0" cy="353.5" rx="4.6" ry="4.8" fill="#8a93a8" stroke="#6a748c" stroke-width="0.6"/><ellipse cx="430.2" cy="353.9" rx="4.6" ry="4.8" fill="#8a93a8" stroke="#6a748c" stroke-width="0.6"/><ellipse cx="441.4" cy="354.3" rx="4.6" ry="4.8" fill="#8a93a8" stroke="#6a748c" stroke-width="0.6"/><ellipse cx="452.6" cy="354.7" rx="4.6" ry="4.8" fill="#8a93a8" stroke="#6a748c" stroke-width="0.6"/><ellipse cx="463.8" cy="355.1" rx="4.6" ry="4.8" fill="#8a93a8" stroke="#6a748c" stroke-width="0.6"/><g transform="rotate(3.3 484.4 349.1)"><path d="M477.1,342.6 h14.6 q-2.2,6.5 0,13.0 h-14.6 q2.2,-6.5 0,-13.0 Z" fill="#b7b7a6" stroke="#8c8c84" stroke-width="0.7"/><ellipse cx="484.4" cy="342.6" rx="3.8" ry="1.7" fill="#f2f2f2"/><ellipse cx="484.4" cy="355.6" rx="3.8" ry="1.7" fill="#f2f2f2"/></g><g transform="rotate(3.3 501.2 350.1)"><path d="M493.9,343.7 h14.6 q-2.2,6.4 0,12.7 h-14.6 q2.2,-6.4 0,-12.7 Z" fill="#b7b7a6" stroke="#8c8c84" stroke-width="0.7"/><ellipse cx="501.2" cy="343.7" rx="3.8" ry="1.7" fill="#f2f2f2"/><ellipse cx="501.2" cy="356.4" rx="3.8" ry="1.7" fill="#f2f2f2"/></g><g transform="rotate(6.2 517.9 351.5)"><path d="M510.6,345.2 h14.6 q-2.2,6.2 0,12.4 h-14.6 q2.2,-6.2 0,-12.4 Z" fill="#b7b7a6" stroke="#8c8c84" stroke-width="0.7"/><ellipse cx="517.9" cy="345.2" rx="3.8" ry="1.7" fill="#f2f2f2"/><ellipse cx="517.9" cy="357.7" rx="3.8" ry="1.7" fill="#f2f2f2"/></g><g transform="rotate(9.7 534.5 353.8)"><path d="M527.2,347.7 h14.6 q-2.2,6.1 0,12.2 h-14.6 q2.2,-6.1 0,-12.2 Z" fill="#b7b7a6" stroke="#8c8c84" stroke-width="0.7"/><ellipse cx="534.5" cy="347.7" rx="3.8" ry="1.7" fill="#f2f2f2"/><ellipse cx="534.5" cy="359.9" rx="3.8" ry="1.7" fill="#f2f2f2"/></g><g transform="rotate(10.0 551.0 356.7)"><path d="M543.7,350.7 h14.6 q-2.2,5.9 0,11.9 h-14.6 q2.2,-5.9 0,-11.9 Z" fill="#b7b7a6" stroke="#8c8c84" stroke-width="0.7"/><ellipse cx="551.0" cy="350.7" rx="3.8" ry="1.7" fill="#f2f2f2"/><ellipse cx="551.0" cy="362.6" rx="3.8" ry="1.7" fill="#f2f2f2"/></g><g transform="rotate(8.6 567.6 359.4)"><path d="M560.3,353.6 h14.6 q-2.2,5.8 0,11.6 h-14.6 q2.2,-5.8 0,-11.6 Z" fill="#b7b7a6" stroke="#8c8c84" stroke-width="0.7"/><ellipse cx="567.6" cy="353.6" rx="3.8" ry="1.7" fill="#f2f2f2"/><ellipse cx="567.6" cy="365.2" rx="3.8" ry="1.7" fill="#f2f2f2"/></g><g transform="rotate(10.6 584.2 362.2)"><path d="M576.9,356.5 h14.6 q-2.2,5.7 0,11.3 h-14.6 q2.2,-5.7 0,-11.3 Z" fill="#b7b7a6" stroke="#8c8c84" stroke-width="0.7"/><ellipse cx="584.2" cy="356.5" rx="3.8" ry="1.7" fill="#f2f2f2"/><ellipse cx="584.2" cy="367.8" rx="3.8" ry="1.7" fill="#f2f2f2"/></g><g transform="rotate(7.3 600.8 364.8)"><path d="M593.5,359.3 h14.6 q-2.2,5.5 0,11.0 h-14.6 q2.2,-5.5 0,-11.0 Z" fill="#b7b7a6" stroke="#8c8c84" stroke-width="0.7"/><ellipse cx="600.8" cy="359.3" rx="3.8" ry="1.7" fill="#f2f2f2"/><ellipse cx="600.8" cy="370.3" rx="3.8" ry="1.7" fill="#f2f2f2"/></g><g transform="rotate(11.1 617.3 367.5)"><path d="M610.0,362.1 h14.6 q-2.2,5.4 0,10.8 h-14.6 q2.2,-5.4 0,-10.8 Z" fill="#adada4" stroke="#8c8c84" stroke-width="0.7"/><ellipse cx="617.3" cy="362.1" rx="3.8" ry="1.7" fill="#f2f2f2"/><ellipse cx="617.3" cy="372.9" rx="3.8" ry="1.7" fill="#f2f2f2"/></g><g transform="rotate(9.0 633.9 370.4)"><path d="M626.6,365.2 h14.6 q-2.2,5.2 0,10.5 h-14.6 q2.2,-5.2 0,-10.5 Z" fill="#adada4" stroke="#8c8c84" stroke-width="0.7"/><ellipse cx="633.9" cy="365.2" rx="3.8" ry="1.7" fill="#f2f2f2"/><ellipse cx="633.9" cy="375.7" rx="3.8" ry="1.7" fill="#f2f2f2"/></g><g transform="rotate(12.1 650.4 373.5)"><path d="M643.1,368.4 h14.6 q-2.2,5.1 0,10.2 h-14.6 q2.2,-5.1 0,-10.2 Z" fill="#adada4" stroke="#8c8c84" stroke-width="0.7"/><ellipse cx="650.4" cy="368.4" rx="3.8" ry="1.7" fill="#f2f2f2"/><ellipse cx="650.4" cy="378.6" rx="3.8" ry="1.7" fill="#f2f2f2"/></g><g transform="rotate(12.8 666.7 377.1)"><path d="M659.5,372.2 h14.6 q-2.2,5.0 0,9.9 h-14.6 q2.2,-5.0 0,-9.9 Z" fill="#adada4" stroke="#8c8c84" stroke-width="0.7"/><ellipse cx="666.7" cy="372.2" rx="3.8" ry="1.7" fill="#f2f2f2"/><ellipse cx="666.7" cy="382.1" rx="3.8" ry="1.7" fill="#f2f2f2"/></g><g transform="rotate(11.3 683.2 380.6)"><path d="M675.9,375.8 h14.6 q-2.2,4.8 0,9.6 h-14.6 q2.2,-4.8 0,-9.6 Z" fill="#adada4" stroke="#8c8c84" stroke-width="0.7"/><ellipse cx="683.2" cy="375.8" rx="3.8" ry="1.7" fill="#f2f2f2"/><ellipse cx="683.2" cy="385.5" rx="3.8" ry="1.7" fill="#f2f2f2"/></g><g transform="rotate(11.4 699.6 383.9)"><path d="M692.3,379.3 h14.6 q-2.2,4.7 0,9.4 h-14.6 q2.2,-4.7 0,-9.4 Z" fill="#adada4" stroke="#8c8c84" stroke-width="0.7"/><ellipse cx="699.6" cy="379.3" rx="3.8" ry="1.7" fill="#f2f2f2"/><ellipse cx="699.6" cy="388.6" rx="3.8" ry="1.7" fill="#f2f2f2"/></g><g transform="rotate(11.5 716.1 387.3)"><path d="M708.8,382.8 h14.6 q-2.2,4.5 0,9.1 h-14.6 q2.2,-4.5 0,-9.1 Z" fill="#adada4" stroke="#8c8c84" stroke-width="0.7"/><ellipse cx="716.1" cy="382.8" rx="3.8" ry="1.7" fill="#f2f2f2"/><ellipse cx="716.1" cy="391.8" rx="3.8" ry="1.7" fill="#f2f2f2"/></g><g transform="rotate(6.9 732.7 390.0)"><path d="M725.4,385.6 h14.6 q-2.2,4.4 0,8.8 h-14.6 q2.2,-4.4 0,-8.8 Z" fill="#adada4" stroke="#8c8c84" stroke-width="0.7"/><ellipse cx="732.7" cy="385.6" rx="3.8" ry="1.7" fill="#f2f2f2"/><ellipse cx="732.7" cy="394.4" rx="3.8" ry="1.7" fill="#f2f2f2"/></g></g><g id="peduncle"><path d="M741,358 L812,358 L812,423.5 L772,423 L741,424.5 Z" fill="url(#gFillet)"/><path d="M741,358 L757,358 Q760,391 757,423.5 L741,424.5 Z" fill="#eee6b2"/><line x1="743" y1="376.1" x2="756" y2="364.0" stroke="#c2b582" stroke-width="0.8"/><line x1="743" y1="380.0" x2="756" y2="371.0" stroke="#c2b582" stroke-width="0.8"/><line x1="743" y1="383.9" x2="756" y2="378.0" stroke="#c2b582" stroke-width="0.8"/><line x1="743" y1="387.7" x2="756" y2="385.0" stroke="#c2b582" stroke-width="0.8"/><line x1="743" y1="391.6" x2="756" y2="392.0" stroke="#c2b582" stroke-width="0.8"/><line x1="743" y1="395.4" x2="756" y2="399.0" stroke="#c2b582" stroke-width="0.8"/><line x1="743" y1="399.2" x2="756" y2="406.0" stroke="#c2b582" stroke-width="0.8"/><line x1="743" y1="403.1" x2="756" y2="413.0" stroke="#c2b582" stroke-width="0.8"/><line x1="743" y1="406.9" x2="756" y2="420.0" stroke="#c2b582" stroke-width="0.8"/><path d="M762.0,362 q6,14 -1,27" stroke="#a58d66" stroke-width="1.8" fill="none" opacity="0.8"/><path d="M762.0,393 q6,14 -1,28" stroke="#b08a6a" stroke-width="1.8" fill="none" opacity="0.75"/><path d="M769.0,362 q6,14 -1,27" stroke="#a58d66" stroke-width="1.8" fill="none" opacity="0.8"/><path d="M769.0,393 q6,14 -1,28" stroke="#b08a6a" stroke-width="1.8" fill="none" opacity="0.75"/><path d="M776.0,362 q6,14 -1,27" stroke="#a58d66" stroke-width="1.8" fill="none" opacity="0.8"/><path d="M776.0,393 q6,14 -1,28" stroke="#b08a6a" stroke-width="1.8" fill="none" opacity="0.75"/><path d="M783.0,362 q6,14 -1,27" stroke="#a58d66" stroke-width="1.8" fill="none" opacity="0.8"/><path d="M783.0,393 q6,14 -1,28" stroke="#b08a6a" stroke-width="1.8" fill="none" opacity="0.75"/><path d="M790.0,362 q6,14 -1,27" stroke="#a58d66" stroke-width="1.8" fill="none" opacity="0.8"/><path d="M790.0,393 q6,14 -1,28" stroke="#b08a6a" stroke-width="1.8" fill="none" opacity="0.75"/><path d="M797.0,362 q6,14 -1,27" stroke="#a58d66" stroke-width="1.8" fill="none" opacity="0.8"/><path d="M797.0,393 q6,14 -1,28" stroke="#b08a6a" stroke-width="1.8" fill="none" opacity="0.75"/><path d="M804.0,362 q6,14 -1,27" stroke="#a58d66" stroke-width="1.8" fill="none" opacity="0.8"/><path d="M804.0,393 q6,14 -1,28" stroke="#b08a6a" stroke-width="1.8" fill="none" opacity="0.75"/><path d="M836,351.5 L846,350 C852,362 856.5,380 856.5,395 C856.5,410 852,426 845,437.5 L830,429 L830,352 Z" fill="#f3ecb6"/><polygon points="800.0,355.0 820.0,353.0 838.0,351.5 836.0,362.0 839.0,372.0 835.0,382.0 837.5,390.0 832.0,397.0 835.0,406.0 831.0,414.0 834.0,422.0 831.0,428.5 812.0,425.0" fill="#5d573c"/><polygon points="800.0,355.0 820.0,353.0 838.0,351.5 836.0,362.0 839.0,372.0 835.0,382.0 837.5,390.0 832.0,397.0 835.0,406.0 831.0,414.0 834.0,422.0 831.0,428.5 812.0,425.0" fill="url(#pScale)"/></g><g id="organs"><path d="M385.0,381.0C390.3,370.2 408.3,376.4 420.0,375.0C431.7,373.6 442.5,372.9 455.0,372.5C467.5,372.1 482.5,372.1 495.0,372.5C507.5,372.9 519.2,373.1 530.0,375.0C540.8,376.9 551.7,381.1 560.0,384.0C568.3,386.9 572.5,388.6 580.0,392.5C587.5,396.4 598.3,402.1 605.0,407.5C611.7,412.9 615.8,418.8 620.0,425.0C624.2,431.2 627.5,437.2 630.0,445.0C632.5,452.8 634.8,466.3 635.0,472.0C635.2,477.7 638.5,476.3 631.0,479.0C623.5,481.7 605.2,485.9 590.0,488.0C574.8,490.1 556.7,490.8 540.0,491.5C523.3,492.2 505.0,492.4 490.0,492.0C475.0,491.6 461.7,490.7 450.0,489.0C438.3,487.3 428.7,485.2 420.0,482.0C411.3,478.8 403.3,477.0 398.0,470.0C392.7,463.0 390.2,454.8 388.0,440.0C385.8,425.2 379.7,391.8 385.0,381.0Z" fill="#f1dcd6" stroke="#d9c4cc" stroke-width="1.5"/><path d="M560.0,388.0C564.2,390.0 577.5,395.3 585.0,400.0C592.5,404.7 599.5,410.0 605.0,416.0C610.5,422.0 614.5,428.3 618.0,436.0C621.5,443.7 624.7,457.7 626.0,462.0" fill="none" stroke="#c9b4d2" stroke-width="3" opacity="0.8"/><path d="M385.0,382.5C392.5,381.7 414.2,378.6 430.0,377.5C445.8,376.4 463.3,375.2 480.0,376.0C496.7,376.8 515.4,379.3 530.0,382.5C544.6,385.7 556.3,389.8 567.5,395.0C578.7,400.2 592.1,410.8 597.0,414.0L597.0,416.0C593.3,416.2 584.1,419.3 575.0,417.5C565.9,415.7 554.2,408.6 542.5,405.0C530.8,401.4 519.6,397.9 505.0,396.0C490.4,394.1 469.2,394.3 455.0,393.8C440.8,393.2 431.7,393.6 420.0,392.5C408.3,391.4 390.8,387.9 385.0,387.0Z" fill="url(#gBlue)" stroke="#3c559a" stroke-width="0.8"/><path d="M420.0,394.0C424.5,392.8 440.8,394.0 455.0,394.5C469.2,395.0 490.4,395.1 505.0,397.0C519.6,398.9 530.5,402.2 542.5,406.0C554.5,409.8 574.1,416.7 577.0,420.0C579.9,423.3 565.3,423.2 560.0,426.0C554.7,428.8 548.3,436.8 545.0,437.0C541.7,437.2 544.2,431.9 540.0,427.5C535.8,423.1 527.9,414.4 520.0,410.5C512.1,406.6 503.3,404.9 492.5,404.0C481.7,403.1 465.8,405.3 455.0,405.0C444.2,404.7 433.8,403.8 428.0,402.0C422.2,400.2 415.5,395.2 420.0,394.0Z" fill="url(#gPink)" stroke="#7d3f75" stroke-width="0.8"/><path d="M416.0,409.0C416.3,406.0 423.5,403.5 430.0,403.0C436.5,402.5 444.7,405.7 455.0,406.0C465.3,406.3 481.2,404.1 492.0,405.0C502.8,405.9 512.2,407.5 520.0,411.5C527.8,415.5 534.7,423.6 539.0,429.0C543.3,434.4 545.8,439.7 546.0,444.0C546.2,448.3 544.3,452.2 540.0,455.0C535.7,457.8 528.0,460.5 520.0,461.0C512.0,461.5 500.7,460.2 492.0,458.0C483.3,455.8 475.5,452.0 468.0,448.0C460.5,444.0 453.7,438.5 447.0,434.0C440.3,429.5 433.2,425.2 428.0,421.0C422.8,416.8 415.7,412.0 416.0,409.0Z" fill="url(#gTan)" stroke="#8b7350" stroke-width="0.9"/><path d="M542.0,441.0C543.5,437.0 551.7,431.7 558.0,429.0C564.3,426.3 573.0,424.8 580.0,425.0C587.0,425.2 594.2,426.8 600.0,430.0C605.8,433.2 610.7,438.8 615.0,444.0C619.3,449.2 623.2,455.5 626.0,461.0C628.8,466.5 633.3,475.2 632.0,477.0C630.7,478.8 624.7,473.8 618.0,472.0C611.3,470.2 600.7,467.7 592.0,466.0C583.3,464.3 573.2,464.2 566.0,462.0C558.8,459.8 553.0,456.5 549.0,453.0C545.0,449.5 540.5,445.0 542.0,441.0Z" fill="url(#gGreen)" stroke="#245a1c" stroke-width="0.9"/><path d="M560.0,438.0C563.3,437.2 573.7,433.0 580.0,433.0C586.3,433.0 593.0,435.2 598.0,438.0C603.0,440.8 608.0,448.0 610.0,450.0" fill="none" stroke="#86c868" stroke-width="3" opacity="0.55" stroke-linecap="round"/><circle cx="496" cy="481" r="5.6" fill="#7c6648"/><path d="M494.6,486.5C497.8,487.4 507.3,491.0 514.2,491.9C521.2,492.7 528.1,493.2 536.0,491.8C543.8,490.5 553.2,486.4 561.5,483.7C569.8,481.0 578.6,477.4 585.8,475.6C593.1,473.7 599.4,472.8 605.0,472.6C610.5,472.5 614.8,473.2 619.2,474.4C623.6,475.6 629.3,478.9 631.3,479.8L632.7,477.2C630.7,475.9 625.4,471.4 620.8,469.6C616.2,467.8 611.1,466.7 605.0,466.4C598.9,466.0 591.9,466.3 584.2,467.4C576.4,468.6 566.9,471.2 558.5,473.3C550.1,475.4 541.2,479.0 534.0,480.2C526.9,481.3 521.8,480.9 515.8,480.1C509.7,479.4 500.5,476.3 497.4,475.5Z" fill="#7c6648"/><circle cx="496" cy="481" r="4.7" fill="#b39a78"/><path d="M494.8,485.6C498.1,486.5 507.5,490.1 514.4,491.0C521.2,491.8 528.0,492.3 535.8,490.9C543.6,489.6 553.0,485.5 561.3,482.8C569.6,480.1 578.4,476.5 585.6,474.7C592.9,472.8 599.3,471.9 605.0,471.7C610.6,471.6 615.0,472.3 619.5,473.5C624.0,474.7 629.7,478.1 631.7,479.0L632.3,478.0C630.3,476.7 625.0,472.3 620.5,470.5C616.0,468.7 611.1,467.6 605.0,467.3C599.0,466.9 592.1,467.2 584.4,468.3C576.6,469.5 567.1,472.1 558.7,474.2C550.4,476.3 541.4,479.9 534.2,481.1C527.0,482.2 521.8,481.8 515.6,481.0C509.5,480.3 500.3,477.2 497.2,476.4Z" fill="#b39a78"/><path d="M498.0,479.0C500.8,479.8 508.8,482.8 515.0,483.5C521.2,484.2 527.8,484.8 535.0,483.5C542.2,482.2 554.2,477.2 558.0,476.0" fill="none" stroke="#d2bf9e" stroke-width="2.5" stroke-linecap="round" opacity="0.8"/><path d="M404.4,436.0C404.7,430.6 410.1,430.5 416.0,429.5C421.9,428.5 434.0,428.8 440.0,430.0C446.0,431.2 449.3,433.3 452.0,437.0C454.7,440.7 454.7,446.8 456.0,452.0C457.3,457.2 458.6,463.0 460.0,468.0C461.4,473.0 466.8,479.2 464.5,482.0C462.2,484.8 452.1,485.0 446.0,484.5C439.9,484.0 433.3,482.8 428.0,479.0C422.7,475.2 417.9,469.2 414.0,462.0C410.1,454.8 404.1,441.4 404.4,436.0Z" fill="#4f4488" stroke="#f4f2f6" stroke-width="2.4"/><path d="M414.0,438.0C415.0,440.8 417.0,449.0 420.0,455.0C423.0,461.0 430.0,470.8 432.0,474.0" fill="none" stroke="#7f75be" stroke-width="7" opacity="0.5" stroke-linecap="round"/><path d="M436.0,435.0C437.0,437.8 439.3,445.2 442.0,452.0C444.7,458.8 450.3,472.0 452.0,476.0" fill="none" stroke="#7f75be" stroke-width="7" opacity="0.5" stroke-linecap="round"/><path d="M427.0,431.0C427.8,434.2 429.3,441.7 432.0,450.0C434.7,458.3 441.2,475.8 443.0,481.0" fill="none" stroke="#372c66" stroke-width="1.6" opacity="0.8"/><path d="M447.0,443.0C448.8,445.2 452.5,452.2 458.0,456.0C463.5,459.8 471.3,464.0 480.0,466.0C488.7,468.0 501.3,468.5 510.0,468.0C518.7,467.5 526.8,465.5 532.0,463.0C537.2,460.5 539.5,454.7 541.0,453.0" fill="none" stroke="#86704e" stroke-width="13" stroke-linecap="round"/><path d="M447.0,443.0C448.8,445.2 452.5,452.2 458.0,456.0C463.5,459.8 471.3,464.0 480.0,466.0C488.7,468.0 501.3,468.5 510.0,468.0C518.7,467.5 526.8,465.5 532.0,463.0C537.2,460.5 539.5,454.7 541.0,453.0" fill="none" stroke="#cbb48c" stroke-width="11" stroke-linecap="round"/><path d="M448.0,441.0C450.0,443.0 454.5,449.5 460.0,453.0C465.5,456.5 473.0,460.2 481.0,462.0C489.0,463.8 503.5,463.7 508.0,464.0" fill="none" stroke="#e2d3b2" stroke-width="3" stroke-linecap="round" opacity="0.8"/><path d="M508.0,474.0C510.8,473.8 520.0,474.0 525.0,473.0C530.0,472.0 535.8,468.8 538.0,468.0" fill="none" stroke="#86704e" stroke-width="8" stroke-linecap="round"/><path d="M508.0,474.0C510.8,473.8 520.0,474.0 525.0,473.0C530.0,472.0 535.8,468.8 538.0,468.0" fill="none" stroke="#c5ad86" stroke-width="6" stroke-linecap="round"/><path d="M468.0,428.0C468.2,430.0 467.7,436.3 469.0,440.0C470.3,443.7 473.8,447.3 476.0,450.0C478.2,452.7 481.0,455.0 482.0,456.0" fill="none" stroke="#8b7350" stroke-width="5.5" stroke-linecap="round"/><path d="M468.0,428.0C468.2,430.0 467.7,436.3 469.0,440.0C470.3,443.7 473.8,447.3 476.0,450.0C478.2,452.7 481.0,455.0 482.0,456.0" fill="none" stroke="#dcc9a4" stroke-width="3.8" stroke-linecap="round"/><ellipse cx="477" cy="481" rx="13" ry="10" fill="#5a2c52" stroke="#3a1a36" stroke-width="0.8" transform="rotate(35 477 481)"/><ellipse cx="479" cy="479" rx="4" ry="5.5" fill="#7d4c78" opacity="0.8" transform="rotate(35 479 479)"/></g><g id="brain"><path d="M321,352 q2,-8 10,-6 q5,-6 11,0 q8,-1 6,8 q8,3 3,10 q-7,7 -16,3 q-9,5 -13,-4 q-6,-5 -1,-11z" fill="#6c7299" stroke="#4a4f74" stroke-width="0.8"/><path d="M347,352 l14,-3" stroke="#6c7299" stroke-width="2"/></g><g id="gills"><path d="M320.6,459.5 L398,447 L412.3,481 Z" fill="#f1dbd6" stroke="#b9b2b6" stroke-width="1"/><ellipse cx="383.8" cy="464.3" rx="19" ry="9.6" fill="#8c3236" transform="rotate(8 383.8 464.3)"/><ellipse cx="380" cy="461" rx="10" ry="4" fill="#a84a4e" opacity="0.7" transform="rotate(8 380 461)"/><path d="M396,447.5 L411.5,481 L416.5,480 L400.5,446.5 Z" fill="#f7f5f5" stroke="#a9a9ad" stroke-width="0.9"/><path d="M405.5,445.5 L423.5,482 L428.5,481 L410,444.5 Z" fill="#f7f5f5" stroke="#a9a9ad" stroke-width="0.9"/><path d="M318.3,378.5C322.6,378.8 334.8,378.4 343.8,380.0C352.8,381.6 362.7,385.1 372.2,388.4C381.7,391.7 392.6,395.8 400.6,399.8C408.6,403.8 416.6,408.8 420.4,412.6C424.2,416.4 424.0,419.0 423.3,422.5C422.6,426.0 420.0,430.0 416.2,433.8C412.4,437.6 406.8,441.9 400.6,445.2C394.5,448.5 387.6,451.4 379.3,453.7C371.0,455.9 359.6,458.0 350.9,458.7C342.1,459.4 332.0,458.8 326.8,458.0C321.6,457.2 320.9,454.4 319.7,453.7L319.7,451.5C322.5,450.9 330.1,449.8 336.7,448.0C343.3,446.2 352.5,443.4 359.4,440.5C366.3,437.6 373.5,434.2 377.9,430.5C382.2,426.8 387.6,422.8 385.5,418.5C383.4,414.2 372.1,408.5 365.1,404.5C358.2,400.5 351.6,397.4 343.8,394.5C336.0,391.6 322.6,388.2 318.3,387.0Z" fill="#bf4c44"/><clipPath id="cGill"><path d="M318.3,378.5C322.6,378.8 334.8,378.4 343.8,380.0C352.8,381.6 362.7,385.1 372.2,388.4C381.7,391.7 392.6,395.8 400.6,399.8C408.6,403.8 416.6,408.8 420.4,412.6C424.2,416.4 424.0,419.0 423.3,422.5C422.6,426.0 420.0,430.0 416.2,433.8C412.4,437.6 406.8,441.9 400.6,445.2C394.5,448.5 387.6,451.4 379.3,453.7C371.0,455.9 359.6,458.0 350.9,458.7C342.1,459.4 332.0,458.8 326.8,458.0C321.6,457.2 320.9,454.4 319.7,453.7L319.7,451.5C322.5,450.9 330.1,449.8 336.7,448.0C343.3,446.2 352.5,443.4 359.4,440.5C366.3,437.6 373.5,434.2 377.9,430.5C382.2,426.8 387.6,422.8 385.5,418.5C383.4,414.2 372.1,408.5 365.1,404.5C358.2,400.5 351.6,397.4 343.8,394.5C336.0,391.6 322.6,388.2 318.3,387.0Z"/></clipPath><g clip-path="url(#cGill)"><line x1="329.5" y1="402.7" x2="308.9" y2="351.6" stroke="#8a2a26" stroke-width="1.3" opacity="0.8"/><line x1="331.0" y1="402.5" x2="314.2" y2="350.7" stroke="#e38d80" stroke-width="1.3" opacity="0.8"/><line x1="332.6" y1="402.3" x2="319.6" y2="350.0" stroke="#8a2a26" stroke-width="1.3" opacity="0.8"/><line x1="334.2" y1="402.1" x2="325.1" y2="349.5" stroke="#e38d80" stroke-width="1.3" opacity="0.8"/><line x1="335.8" y1="402.0" x2="330.5" y2="349.2" stroke="#8a2a26" stroke-width="1.3" opacity="0.8"/><line x1="337.4" y1="402.0" x2="336.0" y2="349.0" stroke="#e38d80" stroke-width="1.3" opacity="0.8"/><line x1="339.0" y1="402.0" x2="341.5" y2="349.0" stroke="#8a2a26" stroke-width="1.3" opacity="0.8"/><line x1="340.6" y1="402.1" x2="347.0" y2="349.2" stroke="#e38d80" stroke-width="1.3" opacity="0.8"/><line x1="342.3" y1="402.2" x2="352.5" y2="349.6" stroke="#8a2a26" stroke-width="1.3" opacity="0.8"/><line x1="343.8" y1="402.3" x2="357.9" y2="350.2" stroke="#e38d80" stroke-width="1.3" opacity="0.8"/><line x1="345.4" y1="402.6" x2="363.3" y2="350.9" stroke="#8a2a26" stroke-width="1.3" opacity="0.8"/><line x1="347.0" y1="402.8" x2="368.6" y2="351.8" stroke="#e38d80" stroke-width="1.3" opacity="0.8"/><line x1="348.5" y1="403.1" x2="373.9" y2="352.9" stroke="#8a2a26" stroke-width="1.3" opacity="0.8"/><line x1="350.0" y1="403.5" x2="379.0" y2="354.2" stroke="#e38d80" stroke-width="1.3" opacity="0.8"/><line x1="351.5" y1="403.9" x2="384.1" y2="355.6" stroke="#8a2a26" stroke-width="1.3" opacity="0.8"/><line x1="353.0" y1="404.4" x2="389.1" y2="357.2" stroke="#e38d80" stroke-width="1.3" opacity="0.8"/><line x1="354.4" y1="404.9" x2="393.9" y2="358.9" stroke="#8a2a26" stroke-width="1.3" opacity="0.8"/><line x1="355.8" y1="405.5" x2="398.6" y2="360.8" stroke="#e38d80" stroke-width="1.3" opacity="0.8"/><line x1="357.1" y1="406.1" x2="403.2" y2="362.9" stroke="#8a2a26" stroke-width="1.3" opacity="0.8"/><line x1="358.4" y1="406.7" x2="407.6" y2="365.1" stroke="#e38d80" stroke-width="1.3" opacity="0.8"/><line x1="359.6" y1="407.4" x2="411.8" y2="367.4" stroke="#8a2a26" stroke-width="1.3" opacity="0.8"/><line x1="360.8" y1="408.1" x2="415.9" y2="369.9" stroke="#e38d80" stroke-width="1.3" opacity="0.8"/><line x1="362.0" y1="408.9" x2="419.7" y2="372.5" stroke="#8a2a26" stroke-width="1.3" opacity="0.8"/><line x1="363.1" y1="409.7" x2="423.4" y2="375.2" stroke="#e38d80" stroke-width="1.3" opacity="0.8"/><line x1="364.1" y1="410.5" x2="426.9" y2="378.0" stroke="#8a2a26" stroke-width="1.3" opacity="0.8"/><line x1="365.0" y1="411.4" x2="430.2" y2="381.0" stroke="#e38d80" stroke-width="1.3" opacity="0.8"/><line x1="365.9" y1="412.3" x2="433.2" y2="384.0" stroke="#8a2a26" stroke-width="1.3" opacity="0.8"/><line x1="366.8" y1="413.2" x2="436.0" y2="387.2" stroke="#e38d80" stroke-width="1.3" opacity="0.8"/><line x1="367.5" y1="414.1" x2="438.6" y2="390.4" stroke="#8a2a26" stroke-width="1.3" opacity="0.8"/><line x1="368.2" y1="415.1" x2="440.9" y2="393.7" stroke="#e38d80" stroke-width="1.3" opacity="0.8"/><line x1="368.8" y1="416.1" x2="443.0" y2="397.1" stroke="#8a2a26" stroke-width="1.3" opacity="0.8"/><line x1="369.3" y1="417.1" x2="444.9" y2="400.6" stroke="#e38d80" stroke-width="1.3" opacity="0.8"/><line x1="369.8" y1="418.2" x2="446.5" y2="404.1" stroke="#8a2a26" stroke-width="1.3" opacity="0.8"/><line x1="370.2" y1="419.2" x2="447.8" y2="407.6" stroke="#e38d80" stroke-width="1.3" opacity="0.8"/><line x1="370.5" y1="420.3" x2="448.9" y2="411.2" stroke="#8a2a26" stroke-width="1.3" opacity="0.8"/><line x1="370.8" y1="421.3" x2="449.7" y2="414.9" stroke="#e38d80" stroke-width="1.3" opacity="0.8"/><line x1="370.9" y1="422.4" x2="450.2" y2="418.5" stroke="#8a2a26" stroke-width="1.3" opacity="0.8"/><line x1="371.0" y1="423.5" x2="450.5" y2="422.2" stroke="#e38d80" stroke-width="1.3" opacity="0.8"/><line x1="371.0" y1="424.5" x2="450.5" y2="425.8" stroke="#8a2a26" stroke-width="1.3" opacity="0.8"/><line x1="370.9" y1="425.6" x2="450.2" y2="429.5" stroke="#e38d80" stroke-width="1.3" opacity="0.8"/><line x1="370.8" y1="426.7" x2="449.7" y2="433.1" stroke="#8a2a26" stroke-width="1.3" opacity="0.8"/><line x1="370.5" y1="427.7" x2="448.9" y2="436.8" stroke="#e38d80" stroke-width="1.3" opacity="0.8"/><line x1="370.2" y1="428.8" x2="447.8" y2="440.4" stroke="#8a2a26" stroke-width="1.3" opacity="0.8"/><line x1="369.8" y1="429.8" x2="446.5" y2="443.9" stroke="#e38d80" stroke-width="1.3" opacity="0.8"/><line x1="369.3" y1="430.9" x2="444.9" y2="447.4" stroke="#8a2a26" stroke-width="1.3" opacity="0.8"/><line x1="368.8" y1="431.9" x2="443.0" y2="450.9" stroke="#e38d80" stroke-width="1.3" opacity="0.8"/><line x1="368.2" y1="432.9" x2="440.9" y2="454.3" stroke="#8a2a26" stroke-width="1.3" opacity="0.8"/><line x1="367.5" y1="433.9" x2="438.6" y2="457.6" stroke="#e38d80" stroke-width="1.3" opacity="0.8"/><line x1="366.8" y1="434.8" x2="436.0" y2="460.8" stroke="#8a2a26" stroke-width="1.3" opacity="0.8"/><line x1="365.9" y1="435.7" x2="433.2" y2="464.0" stroke="#e38d80" stroke-width="1.3" opacity="0.8"/><line x1="365.0" y1="436.6" x2="430.2" y2="467.0" stroke="#8a2a26" stroke-width="1.3" opacity="0.8"/><line x1="364.1" y1="437.5" x2="426.9" y2="470.0" stroke="#e38d80" stroke-width="1.3" opacity="0.8"/><line x1="363.1" y1="438.3" x2="423.4" y2="472.8" stroke="#8a2a26" stroke-width="1.3" opacity="0.8"/><line x1="362.0" y1="439.1" x2="419.7" y2="475.5" stroke="#e38d80" stroke-width="1.3" opacity="0.8"/><line x1="360.8" y1="439.9" x2="415.9" y2="478.1" stroke="#8a2a26" stroke-width="1.3" opacity="0.8"/><line x1="359.6" y1="440.6" x2="411.8" y2="480.6" stroke="#e38d80" stroke-width="1.3" opacity="0.8"/><line x1="358.4" y1="441.3" x2="407.6" y2="482.9" stroke="#8a2a26" stroke-width="1.3" opacity="0.8"/><line x1="357.1" y1="441.9" x2="403.2" y2="485.1" stroke="#e38d80" stroke-width="1.3" opacity="0.8"/><line x1="355.8" y1="442.5" x2="398.6" y2="487.2" stroke="#8a2a26" stroke-width="1.3" opacity="0.8"/><line x1="354.4" y1="443.1" x2="393.9" y2="489.1" stroke="#e38d80" stroke-width="1.3" opacity="0.8"/><line x1="353.0" y1="443.6" x2="389.1" y2="490.8" stroke="#8a2a26" stroke-width="1.3" opacity="0.8"/><line x1="351.5" y1="444.1" x2="384.1" y2="492.4" stroke="#e38d80" stroke-width="1.3" opacity="0.8"/><line x1="350.0" y1="444.5" x2="379.0" y2="493.8" stroke="#8a2a26" stroke-width="1.3" opacity="0.8"/><line x1="348.5" y1="444.9" x2="373.9" y2="495.1" stroke="#e38d80" stroke-width="1.3" opacity="0.8"/><line x1="347.0" y1="445.2" x2="368.6" y2="496.2" stroke="#8a2a26" stroke-width="1.3" opacity="0.8"/><line x1="345.4" y1="445.4" x2="363.3" y2="497.1" stroke="#e38d80" stroke-width="1.3" opacity="0.8"/><line x1="343.8" y1="445.7" x2="357.9" y2="497.8" stroke="#8a2a26" stroke-width="1.3" opacity="0.8"/><line x1="342.3" y1="445.8" x2="352.5" y2="498.4" stroke="#e38d80" stroke-width="1.3" opacity="0.8"/><line x1="340.6" y1="445.9" x2="347.0" y2="498.8" stroke="#8a2a26" stroke-width="1.3" opacity="0.8"/><line x1="339.0" y1="446.0" x2="341.5" y2="499.0" stroke="#e38d80" stroke-width="1.3" opacity="0.8"/><line x1="337.4" y1="446.0" x2="336.0" y2="499.0" stroke="#8a2a26" stroke-width="1.3" opacity="0.8"/><line x1="335.8" y1="446.0" x2="330.5" y2="498.8" stroke="#e38d80" stroke-width="1.3" opacity="0.8"/><line x1="334.2" y1="445.9" x2="325.1" y2="498.5" stroke="#8a2a26" stroke-width="1.3" opacity="0.8"/><line x1="332.6" y1="445.7" x2="319.6" y2="498.0" stroke="#e38d80" stroke-width="1.3" opacity="0.8"/><line x1="331.0" y1="445.5" x2="314.2" y2="497.3" stroke="#8a2a26" stroke-width="1.3" opacity="0.8"/><line x1="329.5" y1="445.3" x2="308.9" y2="496.4" stroke="#e38d80" stroke-width="1.3" opacity="0.8"/></g><path d="M287.0,419.0C287.0,414.7 289.0,410.6 292.0,407.0C295.0,403.4 300.7,399.9 305.0,397.5C309.3,395.1 312.8,392.5 318.0,392.5C323.2,392.5 329.7,395.2 336.0,397.5C342.3,399.8 350.0,403.1 356.0,406.0C362.0,408.9 367.5,412.2 372.0,415.0C376.5,417.8 383.0,419.7 383.0,422.5C383.0,425.3 377.5,428.9 372.0,432.0C366.5,435.1 357.8,438.4 350.0,441.0C342.2,443.6 332.3,447.1 325.0,447.5C317.7,447.9 311.5,445.9 306.0,443.5C300.5,441.1 295.2,437.1 292.0,433.0C288.8,428.9 287.0,423.3 287.0,419.0Z" fill="#f0efec" stroke="#f0efec" stroke-width="4" stroke-linejoin="round"/><path d="M287.0,419.0C287.0,414.7 289.0,410.6 292.0,407.0C295.0,403.4 300.7,399.9 305.0,397.5C309.3,395.1 312.8,392.5 318.0,392.5C323.2,392.5 329.7,395.2 336.0,397.5C342.3,399.8 350.0,403.1 356.0,406.0C362.0,408.9 367.5,412.2 372.0,415.0C376.5,417.8 383.0,419.7 383.0,422.5C383.0,425.3 377.5,428.9 372.0,432.0C366.5,435.1 357.8,438.4 350.0,441.0C342.2,443.6 332.3,447.1 325.0,447.5C317.7,447.9 311.5,445.9 306.0,443.5C300.5,441.1 295.2,437.1 292.0,433.0C288.8,428.9 287.0,423.3 287.0,419.0Z" fill="url(#gCav)" stroke="#6f6458" stroke-width="0.8"/><path d="M321.0,396.0C323.5,396.8 330.2,398.3 336.0,400.5C341.8,402.7 350.2,406.2 356.0,409.0C361.8,411.8 367.2,415.2 371.0,417.5C374.8,419.8 379.2,420.9 379.0,423.0C378.8,425.1 374.8,427.4 370.0,430.0C365.2,432.6 357.2,436.1 350.0,438.5C342.8,440.9 330.8,443.5 327.0,444.5" fill="none" stroke="#4e3f38" stroke-width="5" opacity="0.55"/><path d="M319.0,392.5 l-3.6,6.2 l5,-2.2 z" fill="#fbfbf6" stroke="#5d5048" stroke-width="0.5"/><path d="M324.6,394.1 l-3.6,6.2 l5,-2.2 z" fill="#fbfbf6" stroke="#5d5048" stroke-width="0.5"/><path d="M330.2,395.8 l-3.6,6.2 l5,-2.2 z" fill="#fbfbf6" stroke="#5d5048" stroke-width="0.5"/><path d="M335.8,397.4 l-3.6,6.2 l5,-2.2 z" fill="#fbfbf6" stroke="#5d5048" stroke-width="0.5"/><path d="M341.2,399.7 l-3.6,6.2 l5,-2.2 z" fill="#fbfbf6" stroke="#5d5048" stroke-width="0.5"/><path d="M346.5,402.0 l-3.6,6.2 l5,-2.2 z" fill="#fbfbf6" stroke="#5d5048" stroke-width="0.5"/><path d="M351.9,404.3 l-3.6,6.2 l5,-2.2 z" fill="#fbfbf6" stroke="#5d5048" stroke-width="0.5"/><path d="M357.2,406.7 l-3.6,6.2 l5,-2.2 z" fill="#fbfbf6" stroke="#5d5048" stroke-width="0.5"/><path d="M362.3,409.5 l-3.6,6.2 l5,-2.2 z" fill="#fbfbf6" stroke="#5d5048" stroke-width="0.5"/><path d="M367.4,412.4 l-3.6,6.2 l5,-2.2 z" fill="#fbfbf6" stroke="#5d5048" stroke-width="0.5"/><path d="M372.4,415.3 l-3.6,6.2 l5,-2.2 z" fill="#fbfbf6" stroke="#5d5048" stroke-width="0.5"/><path d="M377.2,418.7 l-3.6,6.2 l5,-2.2 z" fill="#fbfbf6" stroke="#5d5048" stroke-width="0.5"/><path d="M382.0,422.0 l-3.6,6.2 l5,-2.2 z" fill="#fbfbf6" stroke="#5d5048" stroke-width="0.5"/><path d="M381.0,424.0 l-4.6,-5.2 l-0.6,5.4 z" fill="#fbfbf6" stroke="#5d5048" stroke-width="0.5"/><path d="M376.4,427.7 l-4.6,-5.2 l-0.6,5.4 z" fill="#fbfbf6" stroke="#5d5048" stroke-width="0.5"/><path d="M371.8,431.3 l-4.6,-5.2 l-0.6,5.4 z" fill="#fbfbf6" stroke="#5d5048" stroke-width="0.5"/><path d="M366.6,433.9 l-4.6,-5.2 l-0.6,5.4 z" fill="#fbfbf6" stroke="#5d5048" stroke-width="0.5"/><path d="M361.2,436.2 l-4.6,-5.2 l-0.6,5.4 z" fill="#fbfbf6" stroke="#5d5048" stroke-width="0.5"/><path d="M355.8,438.5 l-4.6,-5.2 l-0.6,5.4 z" fill="#fbfbf6" stroke="#5d5048" stroke-width="0.5"/><path d="M350.4,440.8 l-4.6,-5.2 l-0.6,5.4 z" fill="#fbfbf6" stroke="#5d5048" stroke-width="0.5"/><path d="M344.7,442.4 l-4.6,-5.2 l-0.6,5.4 z" fill="#fbfbf6" stroke="#5d5048" stroke-width="0.5"/><path d="M339.0,443.9 l-4.6,-5.2 l-0.6,5.4 z" fill="#fbfbf6" stroke="#5d5048" stroke-width="0.5"/><path d="M333.4,445.5 l-4.6,-5.2 l-0.6,5.4 z" fill="#fbfbf6" stroke="#5d5048" stroke-width="0.5"/><path d="M327.7,447.0 l-4.6,-5.2 l-0.6,5.4 z" fill="#fbfbf6" stroke="#5d5048" stroke-width="0.5"/><path d="M322.0,448.5 l-4.6,-5.2 l-0.6,5.4 z" fill="#fbfbf6" stroke="#5d5048" stroke-width="0.5"/><path d="M300,410 Q325,398 352,410" stroke="#5b483e" stroke-width="3" fill="none" opacity="0.55"/><path d="M318,412 Q340,408 366,420" stroke="#5b483e" stroke-width="3" fill="none" opacity="0.45"/></g><g id="stripe"><path d="M315.7,332.0C318.4,330.4 326.4,325.6 331.6,322.5C336.8,319.4 341.8,316.5 347.0,313.5C352.2,310.5 357.5,307.4 363.0,304.5C368.5,301.6 374.7,298.3 380.0,296.0C385.3,293.7 387.2,292.3 395.0,290.6C402.8,288.9 417.3,286.7 426.5,285.8C435.7,284.9 440.6,285.1 450.0,285.5C459.4,285.9 474.7,287.2 483.0,288.0C491.3,288.8 492.1,289.1 500.0,290.5C507.9,291.9 521.5,294.9 530.7,296.5C539.9,298.1 547.1,298.8 555.0,300.0C562.9,301.2 570.5,302.8 578.0,304.0C585.5,305.2 593.5,306.1 600.0,307.2C606.5,308.3 612.0,309.4 617.0,310.5C622.0,311.6 624.5,312.3 630.0,314.0C635.5,315.7 644.3,318.7 650.0,320.5C655.7,322.3 655.7,322.4 664.0,325.0C672.3,327.6 691.5,333.6 700.0,336.0C708.5,338.4 710.8,338.2 715.0,339.5C719.2,340.8 719.2,341.7 725.0,343.5C730.8,345.3 741.7,348.6 750.0,350.5C758.3,352.4 765.5,354.4 775.0,355.0C784.5,355.6 795.3,354.8 807.0,354.0C818.7,353.2 838.7,350.7 845.0,350.0L845.0,352.0 L812.0,362.0 L797.0,364.3 L775.0,363.8 L745.0,360.0 L715.0,356.5 L690.0,352.0 L664.0,349.5 L630.0,340.5 L600.0,334.0 L578.0,333.3 L546.5,329.3 L515.0,322.2 L483.3,317.5 L451.6,310.3 L420.0,301.6 L409.0,300.5 L409.0,300.5C409.3,304.1 410.1,315.2 410.7,322.0C411.2,328.8 412.8,335.2 412.3,341.0C411.8,346.8 410.5,353.3 407.6,357.0C404.7,360.7 399.8,362.5 395.0,363.3C390.2,364.1 384.3,363.3 379.0,361.7C373.7,360.1 368.6,356.1 363.3,353.5C358.1,350.9 352.8,348.1 347.5,346.0C342.2,343.9 336.8,342.2 331.6,341.0C326.4,339.8 319.0,338.9 316.5,338.5Z" fill="#747248"/><g clip-path="url(#cStripe)"><path d="M318.0,331.0C321.8,327.2 335.5,319.3 345.0,314.0C354.5,308.7 366.5,302.7 375.0,299.0C383.5,295.3 393.2,291.8 396.0,292.0C398.8,292.2 394.7,298.2 392.0,300.0C389.3,301.8 381.5,298.3 380.0,303.0C378.5,307.7 386.3,323.3 383.0,328.0C379.7,332.7 367.2,330.2 360.0,331.0C352.8,331.8 346.3,332.0 340.0,333.0C333.7,334.0 325.7,337.3 322.0,337.0C318.3,336.7 314.2,334.8 318.0,331.0Z" fill="#8d8c4e"/><path d="M319.0,338.5C319.0,337.5 326.8,335.6 331.5,334.5C336.2,333.4 341.8,332.4 347.0,332.0C352.2,331.6 358.3,331.5 363.0,332.0C367.7,332.5 371.3,333.7 375.0,335.0C378.7,336.3 381.7,337.8 385.0,340.0C388.3,342.2 392.2,345.2 395.0,348.0C397.8,350.8 402.0,354.1 402.0,356.5C402.0,358.9 398.8,361.8 395.0,362.5C391.2,363.2 384.3,362.8 379.0,361.0C373.7,359.2 368.6,354.2 363.3,351.5C358.1,348.8 352.8,346.8 347.5,345.0C342.2,343.2 336.4,341.6 331.6,340.5C326.9,339.4 319.0,339.5 319.0,338.5Z" fill="#c6c679"/><path d="M319.0,338.0C321.1,337.3 326.8,335.1 331.5,334.0C336.2,332.9 341.8,331.9 347.0,331.5C352.2,331.1 358.3,331.1 363.0,331.6C367.7,332.1 371.3,333.2 375.0,334.5C378.7,335.8 381.7,337.3 385.0,339.5C388.3,341.7 392.2,344.8 395.0,347.5C397.8,350.2 400.8,354.6 402.0,356.0" fill="none" stroke="#e2e1a4" stroke-width="2.6"/><path d="M384.0,297.0C385.8,293.2 393.8,290.9 398.0,291.5C402.2,292.1 406.8,295.4 409.0,300.5C411.2,305.6 410.4,315.2 411.0,322.0C411.6,328.8 413.0,335.2 412.5,341.0C412.0,346.8 409.8,354.3 408.0,357.0C406.2,359.7 403.8,358.8 402.0,357.0C400.2,355.2 398.8,350.2 397.0,346.0C395.2,341.8 392.7,337.3 391.0,332.0C389.3,326.7 388.2,319.8 387.0,314.0C385.8,308.2 382.2,300.8 384.0,297.0Z" fill="#626136"/><path d="M437.0,288.0C439.5,285.7 449.2,286.8 455.0,287.0C460.8,287.2 469.0,287.3 472.0,289.5C475.0,291.7 474.0,296.8 473.0,300.0C472.0,303.2 469.5,308.0 466.0,309.0C462.5,310.0 456.3,307.3 452.0,306.0C447.7,304.7 442.5,304.0 440.0,301.0C437.5,298.0 434.5,290.3 437.0,288.0Z" fill="#b4b366"/><path d="M476.0,290.0C479.7,286.4 492.5,291.3 500.0,292.5C507.5,293.7 517.5,292.2 521.0,297.0C524.5,301.8 524.5,317.5 521.0,321.0C517.5,324.5 507.2,319.2 500.0,318.0C492.8,316.8 482.0,318.7 478.0,314.0C474.0,309.3 472.3,293.6 476.0,290.0Z" fill="#85844a"/><path d="M523.0,295.5C527.8,293.9 540.7,298.0 550.0,299.5C559.3,301.0 573.8,301.1 579.0,304.5C584.2,307.9 581.0,315.2 581.0,320.0C581.0,324.8 584.2,331.4 579.0,333.0C573.8,334.6 559.2,331.0 550.0,329.5C540.8,328.0 528.8,327.4 524.0,324.0C519.2,320.6 521.2,313.8 521.0,309.0C520.8,304.2 518.2,297.1 523.0,295.5Z" fill="#dedb96"/><path d="M618.0,321.0C620.3,317.8 630.3,318.3 636.0,319.0C641.7,319.7 648.5,321.8 652.0,325.0C655.5,328.2 657.0,334.5 657.0,338.0C657.0,341.5 655.5,345.2 652.0,346.0C648.5,346.8 641.0,343.8 636.0,342.5C631.0,341.2 625.0,341.6 622.0,338.0C619.0,334.4 615.7,324.2 618.0,321.0Z" fill="#dedb98"/><path d="M696.0,337.0C698.5,335.2 706.7,338.8 712.0,340.5C717.3,342.2 725.7,344.2 728.0,347.0C730.3,349.8 729.0,355.7 726.0,357.0C723.0,358.3 714.8,356.0 710.0,355.0C705.2,354.0 699.3,354.0 697.0,351.0C694.7,348.0 693.5,338.8 696.0,337.0Z" fill="#d6d38e"/><path d="M772.0,356.0C775.0,355.4 785.0,355.5 790.0,355.5C795.0,355.5 802.0,355.5 802.0,356.0C802.0,356.5 795.0,358.0 790.0,358.5C785.0,359.0 775.0,359.4 772.0,359.0C769.0,358.6 769.0,356.6 772.0,356.0Z" fill="#bdb86a"/><rect x="300" y="270" width="560" height="110" fill="url(#pScale)"/><path d="M315.7,332.0C318.4,330.4 326.4,325.6 331.6,322.5C336.8,319.4 341.8,316.5 347.0,313.5C352.2,310.5 357.5,307.4 363.0,304.5C368.5,301.6 374.7,298.3 380.0,296.0C385.3,293.7 387.2,292.3 395.0,290.6C402.8,288.9 417.3,286.7 426.5,285.8C435.7,284.9 440.6,285.1 450.0,285.5C459.4,285.9 474.7,287.2 483.0,288.0C491.3,288.8 492.1,289.1 500.0,290.5C507.9,291.9 521.5,294.9 530.7,296.5C539.9,298.1 547.1,298.8 555.0,300.0C562.9,301.2 570.5,302.8 578.0,304.0C585.5,305.2 593.5,306.1 600.0,307.2C606.5,308.3 612.0,309.4 617.0,310.5C622.0,311.6 624.5,312.3 630.0,314.0C635.5,315.7 644.3,318.7 650.0,320.5C655.7,322.3 655.7,322.4 664.0,325.0C672.3,327.6 691.5,333.6 700.0,336.0C708.5,338.4 710.8,338.2 715.0,339.5C719.2,340.8 719.2,341.7 725.0,343.5C730.8,345.3 741.7,348.6 750.0,350.5C758.3,352.4 765.5,354.4 775.0,355.0C784.5,355.6 795.3,354.8 807.0,354.0C818.7,353.2 838.7,350.7 845.0,350.0" fill="none" stroke="#55552c" stroke-width="2.2" opacity="0.75"/></g></g><g id="head"><path d="M217.0,387.0C218.4,383.0 227.4,379.9 232.0,377.0C236.6,374.1 238.4,373.2 244.5,369.6C250.6,366.0 260.1,359.8 268.3,355.4C276.5,351.0 285.5,347.0 293.6,343.0C301.7,339.0 313.0,329.0 317.0,331.5C321.0,334.0 317.6,349.6 317.5,358.0C317.4,366.4 318.2,375.8 316.6,382.0C315.0,388.2 311.9,391.4 308.0,395.5C304.1,399.6 296.9,402.8 293.5,406.5C290.1,410.2 288.2,414.2 287.5,418.0C286.8,421.8 286.8,425.3 289.0,429.0C291.2,432.7 296.5,436.7 301.0,440.0C305.5,443.3 313.5,445.4 316.0,449.0C318.5,452.6 319.2,459.7 316.0,461.5C312.8,463.3 306.3,462.1 297.0,460.0C287.7,457.9 268.3,453.1 260.0,448.8C251.7,444.5 249.7,438.1 247.4,434.0C245.1,429.9 247.8,426.8 246.0,424.0C244.2,421.2 240.2,421.3 236.4,417.5C232.6,413.7 226.6,406.1 223.4,401.0C220.2,395.9 215.6,391.0 217.0,387.0Z" fill="url(#gHead)"/><path d="M217.0,387.0C219.5,385.3 227.4,379.9 232.0,377.0C236.6,374.1 238.4,373.2 244.5,369.6C250.6,366.0 260.1,359.8 268.3,355.4C276.5,351.0 285.5,347.0 293.6,343.0C301.7,339.0 313.1,333.4 317.0,331.5" fill="none" stroke="#6b6b30" stroke-width="1.6" opacity="0.8"/><path d="M316.5,339.0C316.6,342.2 317.3,350.7 317.3,358.0C317.3,365.3 317.9,377.0 316.5,383.0C315.1,389.0 311.8,391.2 309.0,394.0C306.2,396.8 302.6,397.4 300.0,399.5C297.4,401.6 295.6,403.4 293.5,406.5C291.4,409.6 288.5,416.1 287.5,418.0" fill="none" stroke="#6f6f3c" stroke-width="1.4" opacity="0.85"/><path d="M213.3,425.5C216.1,426.4 224.3,429.2 230.0,431.0C235.7,432.8 242.3,432.9 247.4,436.0C252.5,439.1 252.0,445.4 260.3,449.5C268.6,453.6 287.9,458.3 297.2,460.5C306.5,462.7 312.9,462.2 316.0,462.5" fill="none" stroke="#c2c4c6" stroke-width="1.4"/><path d="M216.4,387 L223.9,388 L234.8,401.8 L244.7,422.7 L237.8,421.7 L226,404 Z" fill="#efedc4" stroke="#a3a37c" stroke-width="0.8"/><path d="M223.9,388 L234.8,401.8 L262.6,419.7 L257.6,432.6 L244.7,424.7 L237,408 Z" fill="#f3f2d4" stroke="#96966c" stroke-width="0.9"/><path d="M238,405 L254,428" stroke="#a9a984" stroke-width="0.8" fill="none"/><path d="M214.4,424.2 L237.8,421.2 L246.7,428.6 L240,432.5 L228,430 Z" fill="#f6f5e4" stroke="#aeae92" stroke-width="0.9"/><ellipse cx="241.5" cy="380" rx="6" ry="3" fill="#7a7736" transform="rotate(-18 241.5 380)"/><ellipse cx="242.5" cy="380" rx="3" ry="1.4" fill="#4a4820" transform="rotate(-18 241.5 380)"/><circle cx="282.5" cy="376" r="20.5" fill="#e4e3b6" opacity="0.7"/><circle cx="282.5" cy="376" r="17.8" fill="#474b4e"/><circle cx="282.5" cy="376" r="14.2" fill="#77786a"/><circle cx="282.5" cy="376" r="11.6" fill="#c6c7ba"/><circle cx="282.5" cy="376" r="9.8" fill="#565e68"/><path d="M275,369.5 q5,-4.5 11,-2.5" stroke="#e8e8dc" stroke-width="1.8" fill="none"/><path d="M259,373 q1,-6 5,-8" stroke="#f2f1d8" stroke-width="2.2" fill="none" stroke-linecap="round"/></g></g>
<g id="bottle" filter="url(#soft)"><path d="M160.8,32 L160.8,39.4 C158,45 152,49 147.7,52.5 C142,57.5 139,61.5 137.5,65 C135,70 133.5,74 133.3,79 L133.2,186 Q133.2,198 146,198 L202,198 Q214.7,198 214.7,186 L214.6,80 C214.4,74 212.5,70 210.1,65 C208.5,61.5 205.5,57.5 199.9,52.5 C195.5,49 190,45 186.9,39.4 L186.9,32 Z" fill="url(#gBottle)"/><path d="M160.8,32 L160.8,39.4 C158,45 152,49 147.7,52.5 C142,57.5 139,61.5 137.5,65 C135,70 133.5,74 133.3,79 L133.2,186 Q133.2,198 146,198 L202,198 Q214.7,198 214.7,186 L214.6,80 C214.4,74 212.5,70 210.1,65 C208.5,61.5 205.5,57.5 199.9,52.5 C195.5,49 190,45 186.9,39.4 L186.9,32 Z" fill="url(#gBottleV)"/><ellipse cx="176" cy="46" rx="13" ry="10" fill="url(#gAmber)"/><ellipse cx="158" cy="69.5" rx="15" ry="12" fill="url(#gGlare)"/><rect x="164" y="35" width="8" height="5" rx="1.5" fill="#e6c8c0" opacity="0.8"/><circle cx="165" cy="45" r="1" fill="#e8c9a0" opacity="0.85"/><circle cx="173" cy="48" r="1" fill="#e8c9a0" opacity="0.85"/><circle cx="184" cy="46" r="1" fill="#e8c9a0" opacity="0.85"/><circle cx="189" cy="51" r="1" fill="#e8c9a0" opacity="0.85"/><circle cx="161" cy="54" r="1" fill="#e8c9a0" opacity="0.85"/><circle cx="175" cy="53" r="1" fill="#e8c9a0" opacity="0.85"/><circle cx="181" cy="57" r="1" fill="#e8c9a0" opacity="0.85"/><circle cx="192" cy="58" r="1" fill="#e8c9a0" opacity="0.85"/><circle cx="152" cy="56" r="1" fill="#e8c9a0" opacity="0.85"/><circle cx="164" cy="56" r="1" fill="#e8c9a0" opacity="0.85"/><circle cx="156" cy="60" r="1" fill="#e8c9a0" opacity="0.85"/><path d="M159,24 Q159,21.2 162,21.2 L185.6,21.2 Q188.6,21.2 188.6,24 L188.6,32 L159,32 Z" fill="#2a2c28"/><rect x="163" y="29.5" width="12" height="2.5" fill="#6a6c64" opacity="0.6"/><rect x="133.2" y="80.3" width="81.4" height="93" fill="url(#gLabel)"/><rect x="160" y="82" width="32" height="22" fill="#f3d6d3"/><path d="M166,90.5 q5,-5 10,0 q5,5 10,0 M166,93.5 q5,-5 10,0 q5,5 10,0 M168,96 q4,-4 8,0 q4,4 8,0" stroke="#6f5a86" stroke-width="0.8" fill="none"/><rect x="166.5" y="98.8" width="19" height="1.8" fill="#7c6a8c" opacity="0.85"/><rect x="169" y="101.6" width="14" height="0.8" fill="#9a8aa4" opacity="0.7"/><circle cx="146.5" cy="95.3" r="5.5" fill="#e3ead6" stroke="#7a9a6a" stroke-width="0.8"/><circle cx="146.5" cy="95.3" r="3" fill="none" stroke="#8aa87a" stroke-width="0.7"/><circle cx="203" cy="94.5" r="5.2" fill="#2a6b49"/><circle cx="203" cy="93.2" r="1.7" fill="#e6f2e6"/><rect x="200.6" y="96" width="4.8" height="1.2" fill="#cfe6d6"/><circle cx="138" cy="106" r="0.6" fill="#c9a460" opacity="0.8"/><circle cx="143" cy="112" r="0.6" fill="#c9a460" opacity="0.8"/><circle cx="152" cy="104" r="0.6" fill="#c9a460" opacity="0.8"/><circle cx="156" cy="111" r="0.6" fill="#c9a460" opacity="0.8"/><circle cx="198" cy="106" r="0.6" fill="#c9a460" opacity="0.8"/><circle cx="207" cy="110" r="0.6" fill="#c9a460" opacity="0.8"/><circle cx="212" cy="103" r="0.6" fill="#c9a460" opacity="0.8"/><circle cx="194" cy="112" r="0.6" fill="#c9a460" opacity="0.8"/><circle cx="150" cy="118" r="0.6" fill="#c9a460" opacity="0.8"/><circle cx="210" cy="118" r="0.6" fill="#c9a460" opacity="0.8"/><circle cx="136" cy="118" r="0.6" fill="#c9a460" opacity="0.8"/><text x="174" y="116.4" text-anchor="middle" font-family="Liberation Sans, sans-serif" font-weight="700" font-size="12" fill="#2b2019" textLength="27" lengthAdjust="spacingAndGlyphs">FISH</text><text x="174.9" y="125" text-anchor="middle" font-family="Liberation Sans, sans-serif" font-weight="700" font-size="9.8" fill="#2b2019" textLength="56" lengthAdjust="spacingAndGlyphs">AMINO ACID</text><path d="M133.2,121 q2,-7 4,0 l0,4 q2,-9 4.5,0 l0,5 q2,-6 4,1 q3,-3 5,2 q4,-5 8,1 q5,-4 9,1 q6,-6 11,0 q5,-5 10,0 q5,-6 10,-1 q4,-5 7,0 q3,-7 5,-1 L214.6,145 L133.2,145 Z" fill="#3c7439"/><path d="M133,121 q2,-7 4,0 l0,16 l-4,0 Z M137,125 q2,-9 4.5,0 l0,12 l-4.5,0 Z" fill="#2c5a36"/><path d="M146,143 q4,-9 10,-5 q5,-6 11,-1 q7,-6 13,0 q8,-6 14,0 q7,-5 12,1 q5,-3 8,4 Z" fill="#62a044"/><circle cx="150.0" cy="139.0" r="2.4" fill="#b8322c"/><circle cx="158.0" cy="140.0" r="2.4" fill="#e07a2a"/><circle cx="165.0" cy="138.0" r="2.2" fill="#c8382e"/><circle cx="171.0" cy="141.0" r="2.8" fill="#e9962e"/><circle cx="177.0" cy="140.0" r="3.0" fill="#ee9d30"/><circle cx="185.0" cy="139.5" r="2.4" fill="#d2452e"/><circle cx="192.0" cy="140.5" r="2.4" fill="#e9b23a"/><circle cx="199.0" cy="139.5" r="2.2" fill="#c8382e"/><circle cx="206.0" cy="140.5" r="2.0" fill="#b8342a"/><circle cx="143.0" cy="140.0" r="2.0" fill="#7a2a5a"/><circle cx="212.0" cy="140.0" r="1.8" fill="#d04a30"/><path d="M168,142 l12,-2.5 l1,2 l-12,2 Z" fill="#e58a2c"/><rect x="133.2" y="144.6" width="81.4" height="1.6" fill="#9a7a4a" opacity="0.45"/><rect x="137" y="148.3" width="75" height="5.2" fill="#f3e9da" stroke="#5a4638" stroke-width="0.5"/><rect x="139" y="149.8" width="21" height="2.3" fill="#3a2a20"/><rect x="165" y="150.2" width="22" height="1.5" fill="#7a6a5c"/><line x1="162.5" y1="148.3" x2="162.5" y2="153.5" stroke="#5a4638" stroke-width="0.5"/><rect x="137" y="154.6" width="75" height="8.4" fill="#efe3d2" stroke="#6a5648" stroke-width="0.4"/><rect x="139" y="155.8" width="5.5" height="6" fill="#4a3a30" opacity="0.7"/><rect x="147" y="155.8" width="5.5" height="6" fill="#4a3a30" opacity="0.7"/><rect x="155" y="155.8" width="5.5" height="6" fill="#4a3a30" opacity="0.7"/><rect x="166" y="156.0" width="30" height="1" fill="#6a5a4e" opacity="0.7"/><rect x="166" y="158.2" width="30" height="1" fill="#6a5a4e" opacity="0.7"/><rect x="166" y="160.4" width="30" height="1" fill="#6a5a4e" opacity="0.7"/><rect x="199" y="155.8" width="6" height="6" fill="none" stroke="#4a3a30" stroke-width="0.6"/><rect x="206.5" y="155.8" width="4.5" height="6" fill="none" stroke="#4a3a30" stroke-width="0.6"/><rect x="137" y="164.6" width="75" height="5.4" fill="#f3e9da" stroke="#5a4638" stroke-width="0.5"/><rect x="139" y="166.2" width="24" height="2.2" fill="#4a3a30" opacity="0.8"/><rect x="168" y="166.2" width="41" height="2.2" fill="#3a2a20" opacity="0.85"/><line x1="165.5" y1="164.6" x2="165.5" y2="170" stroke="#5a4638" stroke-width="0.5"/><rect x="133.2" y="80.3" width="81.4" height="93" fill="none" stroke="#9a866e" stroke-width="0.5" opacity="0.6"/></g><g id="jar" filter="url(#soft)"><path d="M875,110 L875.5,216 Q876,223 884,223.5 Q927,226 971,223.5 Q979.5,223 980,216 L980.5,110 Z" fill="url(#gJar)"/><path d="M876,216 Q876,223 884,223.5 Q927,226 971,223.5 Q979.5,223 980,216" fill="none" stroke="#cfd8d8" stroke-width="1"/><path d="M872.4,63 Q872.4,60.5 876,59.5 Q927,48.5 979,59.5 Q982.7,60.5 982.7,63 L982.7,111 Q927,115.5 872.4,111 Z" fill="url(#gTeal)"/><g clip-path="url(#cTeal)" opacity="0.6"><path d="M873.0,46 q-11.6,5.75 0,11.5 q11.6,5.75 0,11.5 q-11.6,5.75 0,11.5 q11.6,5.75 0,11.5 q-11.6,5.75 0,11.5 q11.6,5.75 0,11.5 q-11.6,5.75 0,11.5" stroke="#b6f5ec" stroke-width="1.1" fill="none"/><path d="M873.0,46 q11.6,5.75 0,11.5 q-11.6,5.75 0,11.5 q11.6,5.75 0,11.5 q-11.6,5.75 0,11.5 q11.6,5.75 0,11.5 q-11.6,5.75 0,11.5 q11.6,5.75 0,11.5" stroke="#b6f5ec" stroke-width="1.1" fill="none"/><path d="M884.6,46 q11.6,5.75 0,11.5 q-11.6,5.75 0,11.5 q11.6,5.75 0,11.5 q-11.6,5.75 0,11.5 q11.6,5.75 0,11.5 q-11.6,5.75 0,11.5 q11.6,5.75 0,11.5" stroke="#b6f5ec" stroke-width="1.1" fill="none"/><path d="M884.6,46 q-11.6,5.75 0,11.5 q11.6,5.75 0,11.5 q-11.6,5.75 0,11.5 q11.6,5.75 0,11.5 q-11.6,5.75 0,11.5 q11.6,5.75 0,11.5 q-11.6,5.75 0,11.5" stroke="#b6f5ec" stroke-width="1.1" fill="none"/><path d="M896.2,46 q-11.6,5.75 0,11.5 q11.6,5.75 0,11.5 q-11.6,5.75 0,11.5 q11.6,5.75 0,11.5 q-11.6,5.75 0,11.5 q11.6,5.75 0,11.5 q-11.6,5.75 0,11.5" stroke="#b6f5ec" stroke-width="1.1" fill="none"/><path d="M896.2,46 q11.6,5.75 0,11.5 q-11.6,5.75 0,11.5 q11.6,5.75 0,11.5 q-11.6,5.75 0,11.5 q11.6,5.75 0,11.5 q-11.6,5.75 0,11.5 q11.6,5.75 0,11.5" stroke="#b6f5ec" stroke-width="1.1" fill="none"/><path d="M907.8,46 q11.6,5.75 0,11.5 q-11.6,5.75 0,11.5 q11.6,5.75 0,11.5 q-11.6,5.75 0,11.5 q11.6,5.75 0,11.5 q-11.6,5.75 0,11.5 q11.6,5.75 0,11.5" stroke="#b6f5ec" stroke-width="1.1" fill="none"/><path d="M907.8,46 q-11.6,5.75 0,11.5 q11.6,5.75 0,11.5 q-11.6,5.75 0,11.5 q11.6,5.75 0,11.5 q-11.6,5.75 0,11.5 q11.6,5.75 0,11.5 q-11.6,5.75 0,11.5" stroke="#b6f5ec" stroke-width="1.1" fill="none"/><path d="M919.4,46 q-11.6,5.75 0,11.5 q11.6,5.75 0,11.5 q-11.6,5.75 0,11.5 q11.6,5.75 0,11.5 q-11.6,5.75 0,11.5 q11.6,5.75 0,11.5 q-11.6,5.75 0,11.5" stroke="#b6f5ec" stroke-width="1.1" fill="none"/><path d="M919.4,46 q11.6,5.75 0,11.5 q-11.6,5.75 0,11.5 q11.6,5.75 0,11.5 q-11.6,5.75 0,11.5 q11.6,5.75 0,11.5 q-11.6,5.75 0,11.5 q11.6,5.75 0,11.5" stroke="#b6f5ec" stroke-width="1.1" fill="none"/><path d="M931.0,46 q11.6,5.75 0,11.5 q-11.6,5.75 0,11.5 q11.6,5.75 0,11.5 q-11.6,5.75 0,11.5 q11.6,5.75 0,11.5 q-11.6,5.75 0,11.5 q11.6,5.75 0,11.5" stroke="#b6f5ec" stroke-width="1.1" fill="none"/><path d="M931.0,46 q-11.6,5.75 0,11.5 q11.6,5.75 0,11.5 q-11.6,5.75 0,11.5 q11.6,5.75 0,11.5 q-11.6,5.75 0,11.5 q11.6,5.75 0,11.5 q-11.6,5.75 0,11.5" stroke="#b6f5ec" stroke-width="1.1" fill="none"/><path d="M942.6,46 q-11.6,5.75 0,11.5 q11.6,5.75 0,11.5 q-11.6,5.75 0,11.5 q11.6,5.75 0,11.5 q-11.6,5.75 0,11.5 q11.6,5.75 0,11.5 q-11.6,5.75 0,11.5" stroke="#b6f5ec" stroke-width="1.1" fill="none"/><path d="M942.6,46 q11.6,5.75 0,11.5 q-11.6,5.75 0,11.5 q11.6,5.75 0,11.5 q-11.6,5.75 0,11.5 q11.6,5.75 0,11.5 q-11.6,5.75 0,11.5 q11.6,5.75 0,11.5" stroke="#b6f5ec" stroke-width="1.1" fill="none"/><path d="M954.2,46 q11.6,5.75 0,11.5 q-11.6,5.75 0,11.5 q11.6,5.75 0,11.5 q-11.6,5.75 0,11.5 q11.6,5.75 0,11.5 q-11.6,5.75 0,11.5 q11.6,5.75 0,11.5" stroke="#b6f5ec" stroke-width="1.1" fill="none"/><path d="M954.2,46 q-11.6,5.75 0,11.5 q11.6,5.75 0,11.5 q-11.6,5.75 0,11.5 q11.6,5.75 0,11.5 q-11.6,5.75 0,11.5 q11.6,5.75 0,11.5 q-11.6,5.75 0,11.5" stroke="#b6f5ec" stroke-width="1.1" fill="none"/><path d="M965.8,46 q-11.6,5.75 0,11.5 q11.6,5.75 0,11.5 q-11.6,5.75 0,11.5 q11.6,5.75 0,11.5 q-11.6,5.75 0,11.5 q11.6,5.75 0,11.5 q-11.6,5.75 0,11.5" stroke="#b6f5ec" stroke-width="1.1" fill="none"/><path d="M965.8,46 q11.6,5.75 0,11.5 q-11.6,5.75 0,11.5 q11.6,5.75 0,11.5 q-11.6,5.75 0,11.5 q11.6,5.75 0,11.5 q-11.6,5.75 0,11.5 q11.6,5.75 0,11.5" stroke="#b6f5ec" stroke-width="1.1" fill="none"/><path d="M977.4,46 q11.6,5.75 0,11.5 q-11.6,5.75 0,11.5 q11.6,5.75 0,11.5 q-11.6,5.75 0,11.5 q11.6,5.75 0,11.5 q-11.6,5.75 0,11.5 q11.6,5.75 0,11.5" stroke="#b6f5ec" stroke-width="1.1" fill="none"/><path d="M977.4,46 q-11.6,5.75 0,11.5 q11.6,5.75 0,11.5 q-11.6,5.75 0,11.5 q11.6,5.75 0,11.5 q-11.6,5.75 0,11.5 q11.6,5.75 0,11.5 q-11.6,5.75 0,11.5" stroke="#b6f5ec" stroke-width="1.1" fill="none"/><path d="M989.0,46 q-11.6,5.75 0,11.5 q11.6,5.75 0,11.5 q-11.6,5.75 0,11.5 q11.6,5.75 0,11.5 q-11.6,5.75 0,11.5 q11.6,5.75 0,11.5 q-11.6,5.75 0,11.5" stroke="#b6f5ec" stroke-width="1.1" fill="none"/><path d="M989.0,46 q11.6,5.75 0,11.5 q-11.6,5.75 0,11.5 q11.6,5.75 0,11.5 q-11.6,5.75 0,11.5 q11.6,5.75 0,11.5 q-11.6,5.75 0,11.5 q11.6,5.75 0,11.5" stroke="#b6f5ec" stroke-width="1.1" fill="none"/></g><path d="M872.4,111 Q927,115.5 982.7,111" stroke="#3fae9e" stroke-width="0.8" fill="none" opacity="0.6"/><path d="M898.9,119.2 q3.67,-5.6 7.35,0 q3.67,5.6 7.35,0 q3.67,-5.6 7.35,0 q3.67,5.6 7.35,0 q3.67,-5.6 7.35,0 q3.67,5.6 7.35,0" stroke="#3a3f5c" stroke-width="0.95" fill="none"/><path d="M915.0,124.3 q3.67,5.6 7.35,0 q3.67,-5.6 7.35,0 q3.67,5.6 7.35,0 q3.67,-5.6 7.35,0 q3.67,5.6 7.35,0 q3.67,-5.6 7.35,0" stroke="#3a3f5c" stroke-width="0.95" fill="none"/><path d="M915.0,124.3 q3.67,-5.6 7.35,0 q3.67,5.6 7.35,0 q3.67,-5.6 7.35,0 q3.67,5.6 7.35,0 q3.67,-5.6 7.35,0 q3.67,5.6 7.35,0" stroke="#3a3f5c" stroke-width="0.95" fill="none"/><path d="M905.0,129.4 q3.67,-5.6 7.35,0 q3.67,5.6 7.35,0 q3.67,-5.6 7.35,0 q3.67,5.6 7.35,0 q3.67,-5.6 7.35,0 q3.67,5.6 7.35,0" stroke="#3a3f5c" stroke-width="0.95" fill="none"/><path d="M905.0,129.4 q3.67,5.6 7.35,0 q3.67,-5.6 7.35,0 q3.67,5.6 7.35,0 q3.67,-5.6 7.35,0 q3.67,5.6 7.35,0 q3.67,-5.6 7.35,0" stroke="#3a3f5c" stroke-width="0.95" fill="none"/><path d="M913.0,134.5 q3.67,5.6 7.35,0 q3.67,-5.6 7.35,0 q3.67,5.6 7.35,0 q3.67,-5.6 7.35,0" stroke="#3a3f5c" stroke-width="0.95" fill="none"/><text x="927.9" y="148.8" text-anchor="middle" font-family="Liberation Sans, sans-serif" font-size="9.8" fill="#4a4a55" textLength="53.3" lengthAdjust="spacing">nuOcean</text><rect x="902" y="153.4" width="52" height="0.9" fill="#7a828c" opacity="0.55"/><text x="922.5" y="174.2" text-anchor="middle" font-family="Liberation Serif, serif" font-weight="700" font-size="20.8" fill="#3a4046" textLength="67.5" lengthAdjust="spacingAndGlyphs">Collagen</text><rect x="890" y="188.2" width="78" height="2.3" fill="#39404a" opacity="0.6"/><rect x="889" y="193.3" width="88" height="0.7" fill="#6fd2c4"/><rect x="897" y="196.8" width="64" height="2" fill="#4fc4b4" opacity="0.7"/><path d="M972,203 l3,-7 l2,7 z" fill="#7fd8cc" opacity="0.8"/><rect x="915" y="207.8" width="26" height="2" fill="#39404a" opacity="0.6"/><rect x="920" y="213" width="16" height="1.3" fill="#6a727c" opacity="0.5"/></g><g id="maw" filter="url(#soft)"><path d="M154.7,476.2C155.9,476.0 158.4,480.7 163.3,483.6C168.2,486.5 175.9,490.4 184.4,493.5C192.9,496.6 204.3,499.3 214.2,502.2C224.1,505.1 232.4,509.2 244.0,510.9C255.6,512.5 278.3,510.0 283.7,512.1C289.1,514.2 280.0,520.0 276.3,523.3C272.6,526.6 263.3,528.5 261.4,532.0C259.5,535.5 263.0,541.3 265.1,544.4C267.2,547.5 269.9,549.8 273.8,550.6C277.7,551.4 285.2,548.4 288.7,549.4C292.2,550.4 294.9,554.3 294.9,556.8C294.9,559.3 292.6,563.0 288.7,564.3C284.8,565.5 276.3,562.6 271.3,564.3C266.3,565.9 261.4,570.5 258.9,574.2C256.4,577.9 254.7,583.3 256.4,586.6C258.0,589.9 266.5,590.9 268.8,594.0C271.1,597.1 271.2,602.5 270.0,605.2C268.8,607.9 264.9,610.8 261.4,610.2C257.9,609.6 252.7,603.8 249.0,601.5C245.3,599.2 243.6,596.1 239.0,596.5C234.4,596.9 225.8,601.1 221.7,604.0C217.6,606.9 214.6,610.2 214.2,613.9C213.8,617.6 220.0,623.8 219.2,626.3C218.4,628.8 215.1,631.3 209.3,628.8C203.5,626.3 192.7,617.2 184.4,611.4C176.1,605.6 167.9,600.2 159.6,594.0C151.3,587.8 140.6,580.0 134.8,574.2C129.0,568.4 125.7,563.0 124.9,559.3C124.1,555.6 126.2,553.0 129.9,551.8C133.6,550.5 145.1,553.4 147.2,551.8C149.3,550.1 144.8,546.0 142.3,541.9C139.8,537.8 134.2,531.3 132.3,527.0C130.4,522.7 130.3,518.2 131.1,515.9C131.9,513.6 139.0,515.1 137.3,513.4C135.7,511.7 123.3,508.2 121.2,505.9C119.1,503.6 121.0,502.0 124.9,499.7C128.8,497.4 139.5,494.8 144.7,492.3C149.9,489.8 154.2,487.6 155.9,484.9C157.6,482.2 153.5,476.4 154.7,476.2Z" fill="#e8a244"/><path d="M124.9,559.3C124.1,555.6 126.2,553.0 129.9,551.8C133.6,550.5 141.3,550.4 147.2,551.8C153.0,553.2 158.2,555.6 165.0,560.0C171.8,564.4 180.8,571.7 188.0,578.0C195.2,584.3 203.2,592.2 208.0,598.0C212.8,603.8 215.1,608.3 217.0,613.0C218.9,617.7 220.5,623.7 219.2,626.3C217.9,628.9 215.1,631.3 209.3,628.8C203.5,626.3 192.7,617.2 184.4,611.4C176.1,605.6 167.9,600.2 159.6,594.0C151.3,587.8 140.6,580.0 134.8,574.2C129.0,568.4 125.7,563.0 124.9,559.3Z" fill="url(#gMaw3)"/><path d="M134.0,558.0C137.0,558.5 145.0,557.7 152.0,561.0C159.0,564.3 168.3,571.5 176.0,578.0C183.7,584.5 192.3,593.3 198.0,600.0C203.7,606.7 208.0,615.0 210.0,618.0" fill="none" stroke="#fbe4a4" stroke-width="4.5" opacity="0.65" stroke-linecap="round"/><path d="M131.1,515.9C134.0,514.7 141.8,517.6 150.0,520.0C158.2,522.4 169.7,525.8 180.0,530.0C190.3,534.2 202.3,540.7 212.0,545.0C221.7,549.3 232.3,552.5 238.0,556.0C243.7,559.5 246.3,563.0 246.0,566.0C245.7,569.0 239.3,571.7 236.0,574.0C232.7,576.3 228.0,576.3 226.0,580.0C224.0,583.7 226.0,592.3 224.0,596.0C222.0,599.7 217.3,602.0 214.0,602.0C210.7,602.0 207.0,598.7 204.0,596.0C201.0,593.3 200.0,589.7 196.0,586.0C192.0,582.3 186.0,579.0 180.0,574.0C174.0,569.0 166.3,561.4 160.0,556.0C153.7,550.6 146.9,546.7 142.3,541.9C137.7,537.1 134.2,531.3 132.3,527.0C130.4,522.7 128.2,517.1 131.1,515.9Z" fill="url(#gMaw2)"/><path d="M140.0,524.0C143.3,526.0 152.3,531.3 160.0,536.0C167.7,540.7 177.7,547.0 186.0,552.0C194.3,557.0 206.0,563.7 210.0,566.0" fill="none" stroke="#f6c670" stroke-width="3" opacity="0.75" stroke-linecap="round"/><path d="M146.0,540.0C149.7,542.7 160.7,550.3 168.0,556.0C175.3,561.7 184.0,568.3 190.0,574.0C196.0,579.7 201.7,587.3 204.0,590.0" fill="none" stroke="#d98a2a" stroke-width="2.5" opacity="0.7" stroke-linecap="round"/><path d="M200.0,572.0C202.0,572.3 209.0,572.0 212.0,574.0C215.0,576.0 218.0,580.0 218.0,584.0C218.0,588.0 213.0,595.7 212.0,598.0" fill="none" stroke="#f8d48a" stroke-width="2.2" opacity="0.8" stroke-linecap="round"/><path d="M222.0,572.0C224.0,568.3 231.7,566.0 236.0,566.0C240.3,566.0 245.3,568.7 248.0,572.0C250.7,575.3 252.7,582.0 252.0,586.0C251.3,590.0 247.3,594.3 244.0,596.0C240.7,597.7 235.3,597.3 232.0,596.0C228.7,594.7 225.7,592.0 224.0,588.0C222.3,584.0 220.0,575.7 222.0,572.0Z" fill="#e2902a"/><path d="M228.0,574.0C229.7,572.0 235.2,570.3 238.0,571.0C240.8,571.7 244.2,575.2 245.0,578.0C245.8,580.8 244.8,586.0 243.0,588.0C241.2,590.0 236.5,590.8 234.0,590.0C231.5,589.2 229.0,585.7 228.0,583.0C227.0,580.3 226.3,576.0 228.0,574.0Z" fill="#eda23a"/><path d="M268.0,553.0C269.7,551.2 279.2,549.7 283.0,550.0C286.8,550.3 290.3,553.0 291.0,555.0C291.7,557.0 290.0,561.0 287.0,562.0C284.0,563.0 276.2,562.5 273.0,561.0C269.8,559.5 266.3,554.8 268.0,553.0Z" fill="#f3c069"/><path d="M254.0,590.0C256.0,589.2 261.8,590.8 264.0,593.0C266.2,595.2 267.5,600.7 267.0,603.0C266.5,605.3 263.5,607.8 261.0,607.0C258.5,606.2 253.2,600.8 252.0,598.0C250.8,595.2 252.0,590.8 254.0,590.0Z" fill="#f3c069"/><path d="M248.0,560.0C250.3,559.7 258.0,557.5 262.0,558.0C266.0,558.5 270.3,562.2 272.0,563.0" fill="none" stroke="#d78a2c" stroke-width="2" opacity="0.7"/><path d="M154.7,476.2C155.9,476.0 158.4,480.7 163.3,483.6C168.2,486.5 175.9,490.4 184.4,493.5C192.9,496.6 204.3,499.3 214.2,502.2C224.1,505.1 232.4,509.2 244.0,510.9C255.6,512.5 278.3,510.0 283.7,512.1C289.1,514.2 280.0,520.0 276.3,523.3C272.6,526.6 263.4,529.0 261.4,532.0C259.3,535.0 263.9,537.8 264.0,541.0C264.1,544.2 264.3,548.5 262.0,551.0C259.7,553.5 256.2,556.0 250.0,556.0C243.8,556.0 233.7,553.3 225.0,551.0C216.3,548.7 206.8,545.3 198.0,542.0C189.2,538.7 180.0,534.7 172.0,531.0C164.0,527.3 155.8,522.9 150.0,520.0C144.2,517.1 142.1,515.8 137.3,513.4C132.5,511.0 123.3,508.2 121.2,505.9C119.1,503.6 121.0,502.0 124.9,499.7C128.8,497.4 139.5,494.8 144.7,492.3C149.9,489.8 154.2,487.6 155.9,484.9C157.6,482.2 153.5,476.4 154.7,476.2Z" fill="url(#gMaw1)"/><path d="M142.0,502.0C146.3,502.5 158.7,502.8 168.0,505.0C177.3,507.2 188.0,511.7 198.0,515.0C208.0,518.3 219.0,522.5 228.0,525.0C237.0,527.5 248.0,529.2 252.0,530.0" fill="none" stroke="#fae3a6" stroke-width="6" opacity="0.7" stroke-linecap="round"/><path d="M138.0,514.0C141.7,515.7 151.3,520.0 160.0,524.0C168.7,528.0 179.2,533.7 190.0,538.0C200.8,542.3 214.7,547.3 225.0,550.0C235.3,552.7 247.5,553.3 252.0,554.0" fill="none" stroke="#e6a248" stroke-width="3" opacity="0.75" stroke-linecap="round"/><path d="M228.0,511.0C229.7,509.2 247.0,512.3 255.0,513.0C263.0,513.7 274.5,512.8 276.0,515.0C277.5,517.2 269.2,524.5 264.0,526.0C258.8,527.5 251.0,526.5 245.0,524.0C239.0,521.5 226.3,512.8 228.0,511.0Z" fill="#f9e0a2" opacity="0.8"/><path d="M156.0,480.0C157.3,481.7 159.3,486.8 164.0,490.0C168.7,493.2 176.3,496.2 184.0,499.0C191.7,501.8 205.7,505.7 210.0,507.0" fill="none" stroke="#f7d58e" stroke-width="2.5" opacity="0.8" stroke-linecap="round"/></g><g id="pack" filter="url(#soft)"><rect x="914" y="486" width="108" height="166" fill="#0f2d33"/><g clip-path="url(#cPack)"><path d="M914,486 L968,486 Q972,500 962,508 Q968,518 955,522 Q940,530 928,524 Q918,528 914,522 Z" fill="#1b6150"/><path d="M914,486 L950,486 Q952,498 940,504 Q930,512 914,508 Z" fill="#237a60" opacity="0.6"/><rect x="921.5" y="494.5" width="39" height="3.6" fill="#e6cf62"/><rect x="921.5" y="500.3" width="30" height="1.6" fill="#b9c8b4" opacity="0.8"/><rect x="921.5" y="503.6" width="21" height="1.5" fill="#c9b84e" opacity="0.8"/><ellipse cx="982" cy="568" rx="56" ry="38" fill="#bdb8aa" transform="rotate(-10 982 568)"/><ellipse cx="982" cy="567" rx="55" ry="36.5" fill="#ebe8e0" transform="rotate(-10 982 567)"/><ellipse cx="983" cy="567" rx="46" ry="29" fill="#dedad0" transform="rotate(-10 983 567)"/><path d="M935.5,572.0C936.1,568.8 937.6,563.6 940.0,561.0C942.4,558.4 946.3,556.9 950.0,556.5C953.7,556.1 958.3,556.9 962.0,558.5C965.7,560.1 969.5,562.8 972.0,566.0C974.5,569.2 976.5,574.0 977.0,578.0C977.5,582.0 976.8,587.0 975.0,590.0C973.2,593.0 969.7,595.2 966.0,596.0C962.3,596.8 957.0,596.3 953.0,595.0C949.0,593.7 944.8,590.5 942.0,588.0C939.2,585.5 937.6,582.7 936.5,580.0C935.4,577.3 934.9,575.2 935.5,572.0Z" fill="#b5ae48"/><circle cx="950.0" cy="564.3" r="1.7" fill="#dcd25e"/><circle cx="957.8" cy="571.8" r="2.5" fill="#dcd25e"/><circle cx="945.9" cy="562.0" r="1.7" fill="#5a963a"/><circle cx="941.4" cy="573.9" r="2.5" fill="#e6da6a"/><circle cx="961.3" cy="579.4" r="2.2" fill="#dcd25e"/><circle cx="952.7" cy="593.2" r="2.2" fill="#dcd25e"/><circle cx="942.9" cy="573.7" r="2.2" fill="#e6da6a"/><circle cx="958.7" cy="582.9" r="2.2" fill="#e6da6a"/><circle cx="961.6" cy="572.0" r="2.2" fill="#e6da6a"/><circle cx="960.9" cy="576.4" r="2.4" fill="#5a963a"/><circle cx="955.2" cy="591.3" r="1.9" fill="#3f7a2a"/><circle cx="967.4" cy="583.5" r="1.7" fill="#e2d868"/><circle cx="949.1" cy="576.3" r="2.3" fill="#3f7a2a"/><circle cx="948.7" cy="593.3" r="2.1" fill="#e6da6a"/><circle cx="944.1" cy="571.0" r="2.0" fill="#e8de78"/><circle cx="958.6" cy="586.6" r="1.9" fill="#3f7a2a"/><circle cx="951.0" cy="576.4" r="1.7" fill="#e8de78"/><circle cx="941.5" cy="568.4" r="1.7" fill="#e6da6a"/><circle cx="964.0" cy="581.6" r="1.9" fill="#e8de78"/><circle cx="952.3" cy="582.4" r="2.5" fill="#dcd25e"/><circle cx="951.2" cy="580.4" r="1.7" fill="#e8de78"/><circle cx="966.4" cy="563.5" r="2.0" fill="#e2d868"/><circle cx="971.9" cy="576.4" r="2.0" fill="#d2c852"/><circle cx="958.3" cy="589.9" r="2.5" fill="#5a963a"/><circle cx="948.3" cy="573.5" r="2.3" fill="#3f7a2a"/><circle cx="952.1" cy="567.1" r="1.8" fill="#e6da6a"/><circle cx="946.6" cy="567.2" r="2.4" fill="#e8de78"/><circle cx="944.7" cy="568.9" r="2.0" fill="#d2c852"/><circle cx="951.7" cy="578.8" r="2.3" fill="#d2c852"/><circle cx="957.1" cy="580.6" r="2.1" fill="#dcd25e"/><circle cx="963.2" cy="578.6" r="2.0" fill="#5a963a"/><circle cx="941.8" cy="581.2" r="1.8" fill="#dcd25e"/><circle cx="974.4" cy="574.4" r="1.9" fill="#e6da6a"/><circle cx="951.5" cy="559.9" r="2.2" fill="#e2d868"/><circle cx="943.5" cy="567.8" r="2.2" fill="#3f7a2a"/><circle cx="955.5" cy="563.0" r="2.6" fill="#e8de78"/><circle cx="955.2" cy="575.9" r="1.7" fill="#e6da6a"/><circle cx="965.7" cy="584.9" r="2.4" fill="#e8de78"/><circle cx="973.2" cy="577.5" r="2.3" fill="#d2c852"/><circle cx="971.8" cy="585.5" r="2.6" fill="#4c8a30"/><circle cx="969.9" cy="583.4" r="2.1" fill="#4c8a30"/><path d="M971.0,548.0C971.3,545.0 976.2,540.2 980.0,538.0C983.8,535.8 989.3,535.2 994.0,535.0C998.7,534.8 1003.5,535.7 1008.0,537.0C1012.5,538.3 1018.0,539.8 1021.0,543.0C1024.0,546.2 1025.2,550.8 1026.0,556.0C1026.8,561.2 1027.3,569.3 1026.0,574.0C1024.7,578.7 1021.0,583.0 1018.0,584.0C1015.0,585.0 1011.0,582.7 1008.0,580.0C1005.0,577.3 1003.0,571.3 1000.0,568.0C997.0,564.7 993.7,562.0 990.0,560.0C986.3,558.0 981.2,558.0 978.0,556.0C974.8,554.0 970.7,551.0 971.0,548.0Z" fill="#2b6325"/><path d="M994.3,561.5 q5.3,-3.3 10.5,-1.3" stroke="#3f8a34" stroke-width="1.7" fill="none"/><path d="M995.4,563.8 q3.1,-3.5 6.1,-1.5" stroke="#1f4f1c" stroke-width="1.1" fill="none"/><path d="M1011.1,567.1 q2.6,1.8 5.3,3.8" stroke="#2f6f28" stroke-width="1.5" fill="none"/><path d="M1001.9,544.6 q2.5,-2.7 5.1,-0.7" stroke="#5aa040" stroke-width="1.0" fill="none"/><path d="M1014.3,563.2 q4.8,-4.7 9.7,-2.7" stroke="#3f8a34" stroke-width="1.7" fill="none"/><path d="M997.4,564.9 q4.0,-1.4 8.0,0.6" stroke="#2f6f28" stroke-width="1.5" fill="none"/><path d="M992.1,561.2 q5.3,-7.2 10.6,-5.2" stroke="#6db04a" stroke-width="1.3" fill="none"/><path d="M983.8,550.1 q2.7,-0.3 5.4,1.7" stroke="#2f6f28" stroke-width="1.1" fill="none"/><path d="M986.7,540.8 q2.6,-1.2 5.1,0.8" stroke="#1f4f1c" stroke-width="1.2" fill="none"/><path d="M1015.8,557.7 q5.4,-4.0 10.9,-2.0" stroke="#5aa040" stroke-width="1.5" fill="none"/><path d="M988.8,551.1 q2.5,-3.9 5.1,-1.9" stroke="#5aa040" stroke-width="1.1" fill="none"/><path d="M1006.2,538.5 q3.9,-3.1 7.8,-1.1" stroke="#3f8a34" stroke-width="1.2" fill="none"/><path d="M1009.2,555.6 q3.7,-4.1 7.3,-2.1" stroke="#1f4f1c" stroke-width="1.0" fill="none"/><path d="M973.9,545.9 q5.5,-2.0 11.0,0.0" stroke="#3f8a34" stroke-width="1.1" fill="none"/><path d="M1019.5,547.0 q3.3,-0.3 6.5,1.7" stroke="#6db04a" stroke-width="1.7" fill="none"/><path d="M991.1,541.1 q3.1,-1.6 6.3,0.4" stroke="#5aa040" stroke-width="1.5" fill="none"/><path d="M990.5,557.0 q5.4,-3.2 10.8,-1.2" stroke="#3f8a34" stroke-width="1.1" fill="none"/><path d="M991.1,564.3 q3.4,-5.7 6.9,-3.7" stroke="#3f8a34" stroke-width="1.2" fill="none"/><path d="M1017.2,546.3 q5.4,0.8 10.7,2.8" stroke="#3f8a34" stroke-width="1.1" fill="none"/><path d="M975.2,542.6 q4.0,-5.4 8.1,-3.4" stroke="#2f6f28" stroke-width="1.2" fill="none"/><path d="M1011.7,563.1 q3.4,-6.2 6.8,-4.2" stroke="#5aa040" stroke-width="1.1" fill="none"/><path d="M995.5,565.4 q4.3,-7.3 8.7,-5.3" stroke="#1f4f1c" stroke-width="1.7" fill="none"/><path d="M982.6,538.7 q3.3,-3.5 6.6,-1.5" stroke="#5aa040" stroke-width="1.0" fill="none"/><path d="M986.3,560.3 q5.4,-7.1 10.8,-5.1" stroke="#1f4f1c" stroke-width="1.7" fill="none"/><path d="M1019.1,565.6 q4.6,-2.2 9.1,-0.2" stroke="#1f4f1c" stroke-width="1.5" fill="none"/><path d="M1016.4,557.9 q3.6,-4.9 7.1,-2.9" stroke="#5aa040" stroke-width="1.0" fill="none"/><path d="M1002.9,558.3 q4.7,-4.8 9.4,-2.8" stroke="#5aa040" stroke-width="1.1" fill="none"/><path d="M998.7,569.0 q5.2,-0.6 10.4,1.4" stroke="#1f4f1c" stroke-width="1.6" fill="none"/><path d="M947.0,550.0C947.8,547.8 952.5,546.7 956.0,546.5C959.5,546.3 963.7,547.4 968.0,549.0C972.3,550.6 977.0,553.2 982.0,556.0C987.0,558.8 993.5,562.5 998.0,566.0C1002.5,569.5 1006.5,573.3 1009.0,577.0C1011.5,580.7 1012.8,585.0 1013.0,588.0C1013.2,591.0 1012.2,593.6 1010.0,595.0C1007.8,596.4 1003.7,597.0 1000.0,596.5C996.3,596.0 992.2,594.1 988.0,592.0C983.8,589.9 979.3,587.3 975.0,584.0C970.7,580.7 966.0,576.0 962.0,572.0C958.0,568.0 953.5,563.7 951.0,560.0C948.5,556.3 946.2,552.2 947.0,550.0Z" fill="#c4933e"/><path d="M950.0,550.5C949.5,548.8 954.7,548.2 958.0,548.5C961.3,548.8 965.7,550.2 970.0,552.0C974.3,553.8 979.3,556.7 984.0,559.5C988.7,562.3 994.3,565.9 998.0,569.0C1001.7,572.1 1005.7,576.0 1006.0,578.0C1006.3,580.0 1003.0,581.5 1000.0,581.0C997.0,580.5 992.3,577.3 988.0,575.0C983.7,572.7 978.5,569.7 974.0,567.0C969.5,564.3 965.0,561.8 961.0,559.0C957.0,556.2 950.5,552.2 950.0,550.5Z" fill="#ead9a2"/><path d="M990.0,566.0C991.3,565.5 996.7,568.3 999.0,570.0C1001.3,571.7 1004.2,574.7 1004.0,576.0C1003.8,577.3 1000.2,578.5 998.0,578.0C995.8,577.5 992.3,575.0 991.0,573.0C989.7,571.0 988.7,566.5 990.0,566.0Z" fill="#f4eccc" opacity="0.9"/><path d="M972.0,582.0C974.3,583.3 981.3,587.8 986.0,590.0C990.7,592.2 996.0,594.8 1000.0,595.5C1004.0,596.2 1008.3,594.2 1010.0,594.0" fill="none" stroke="#9a6a24" stroke-width="1.6" opacity="0.8"/><circle cx="934.3" cy="542.5" r="8" fill="#1a2c3a"/><path d="M928.8,536.5 L939.8,536.5 L939.8,543 Q939.8,547.5 934.3,549 Q928.8,547.5 928.8,543 Z" fill="#cc2630"/><rect x="932.3" y="538.8" width="4" height="5" fill="#f2dada" opacity="0.85"/><path d="M914,598 L990,598 Q996,604 990,611 L914,611 Z" fill="#3b4a50" opacity="0.9"/><text x="917" y="608.3" font-family="Liberation Serif, serif" font-style="italic" font-weight="700" font-size="7.6" fill="#f0f2f2" textLength="69" lengthAdjust="spacingAndGlyphs">Reimagine the taste of</text><text x="917" y="619" font-family="Liberation Serif, serif" font-style="italic" font-weight="700" font-size="7.6" fill="#f0f2f2" textLength="24" lengthAdjust="spacingAndGlyphs">Seafood</text><line x1="917" y1="620.5" x2="941" y2="620.5" stroke="#e6e8e8" stroke-width="0.6"/><ellipse cx="994.5" cy="614.5" rx="7.6" ry="3.8" fill="#2d62c0"/><ellipse cx="994.5" cy="614.5" rx="5" ry="1.6" fill="#c9dcf6" opacity="0.8"/><rect x="1004" y="607" width="10.5" height="11" rx="3" fill="#d9a91e"/><rect x="1006" y="609.5" width="6.5" height="5" fill="#6b4d10" opacity="0.6"/><rect x="917" y="633" width="103" height="13" fill="#16994e"/><circle cx="927.5" cy="633.5" r="9.2" fill="#16994e"/><circle cx="927.5" cy="631" r="4.4" fill="none" stroke="#d9f2e2" stroke-width="0.9"/><rect x="922.0" y="639.2" width="11" height="1.6" fill="#d9f2e2" opacity="0.85"/><rect x="923.5" y="642" width="8" height="1" fill="#bfe6cf" opacity="0.7"/><circle cx="947.9" cy="633.5" r="9.2" fill="#16994e"/><circle cx="947.9" cy="631" r="4.4" fill="none" stroke="#d9f2e2" stroke-width="0.9"/><rect x="942.4" y="639.2" width="11" height="1.6" fill="#d9f2e2" opacity="0.85"/><rect x="943.9" y="642" width="8" height="1" fill="#bfe6cf" opacity="0.7"/><circle cx="968.3" cy="633.5" r="9.2" fill="#16994e"/><circle cx="968.3" cy="631" r="4.4" fill="none" stroke="#d9f2e2" stroke-width="0.9"/><rect x="962.8" y="639.2" width="11" height="1.6" fill="#d9f2e2" opacity="0.85"/><rect x="964.3" y="642" width="8" height="1" fill="#bfe6cf" opacity="0.7"/><circle cx="988.7" cy="633.5" r="9.2" fill="#16994e"/><circle cx="988.7" cy="631" r="4.4" fill="none" stroke="#d9f2e2" stroke-width="0.9"/><rect x="983.2" y="639.2" width="11" height="1.6" fill="#d9f2e2" opacity="0.85"/><rect x="984.7" y="642" width="8" height="1" fill="#bfe6cf" opacity="0.7"/><circle cx="1009.1" cy="633.5" r="9.2" fill="#16994e"/><circle cx="1009.1" cy="631" r="4.4" fill="none" stroke="#d9f2e2" stroke-width="0.9"/><rect x="1003.6" y="639.2" width="11" height="1.6" fill="#d9f2e2" opacity="0.85"/><rect x="1005.1" y="642" width="8" height="1" fill="#bfe6cf" opacity="0.7"/><circle cx="968.3" cy="631" r="3.6" fill="#e6f6ec"/></g></g>
<g id="arrows"><line x1="287.3" y1="213.7" x2="298.0" y2="345.1" stroke="#111" stroke-width="1.30"/><polygon points="298.5,351.1 294.9,343.4 300.8,342.9" fill="#111"/><line x1="289.5" y1="214.0" x2="389.7" y2="402.2" stroke="#111" stroke-width="1.30"/><polygon points="392.5,407.5 386.1,401.8 391.4,399.0" fill="#111"/><line x1="289.5" y1="214.0" x2="513.9" y2="457.6" stroke="#111" stroke-width="1.30"/><polygon points="518.0,462.0 510.4,458.1 514.8,454.1" fill="#111"/><line x1="289.5" y1="214.0" x2="546.3" y2="415.3" stroke="#111" stroke-width="1.30"/><polygon points="551.0,419.0 542.9,416.4 546.6,411.7" fill="#111"/><line x1="289.5" y1="214.0" x2="630.5" y2="370.0" stroke="#111" stroke-width="1.30"/><polygon points="636.0,372.5 627.5,371.9 630.0,366.4" fill="#111"/><line x1="289.5" y1="214.0" x2="898.2" y2="363.6" stroke="#111" stroke-width="1.30"/><polygon points="904.0,365.0 895.5,366.0 896.9,360.2" fill="#111"/><line x1="289.5" y1="214.0" x2="540.8" y2="237.5" stroke="#111" stroke-width="1.30"/><polygon points="546.8,238.1 538.6,240.3 539.1,234.4" fill="#111"/><line x1="805.0" y1="246.3" x2="675.4" y2="333.1" stroke="#111" stroke-width="1.30"/><polygon points="670.4,336.4 675.4,329.5 678.7,334.4" fill="#111"/><line x1="285.7" y1="656.6" x2="420.8" y2="387.2" stroke="#111" stroke-width="1.30"/><polygon points="423.5,381.8 422.6,390.3 417.2,387.6" fill="#111"/><line x1="897.7" y1="670.6" x2="782.5" y2="399.7" stroke="#111" stroke-width="1.30"/><polygon points="780.2,394.2 786.1,400.4 780.6,402.7" fill="#111"/></g>
</svg>
<div class="lbl" style="left:71px;top:203px;">Fish Amino Acid</div>
<div class="lbl" style="left:813.5px;top:236px;">Fish Scale Collagen</div>
<div class="lbl" style="left:155px;top:646px;">Fish Maw</div>
<div class="lbl" style="left:907px;top:661px;">Ikejime Fillet</div>
</body></html>
